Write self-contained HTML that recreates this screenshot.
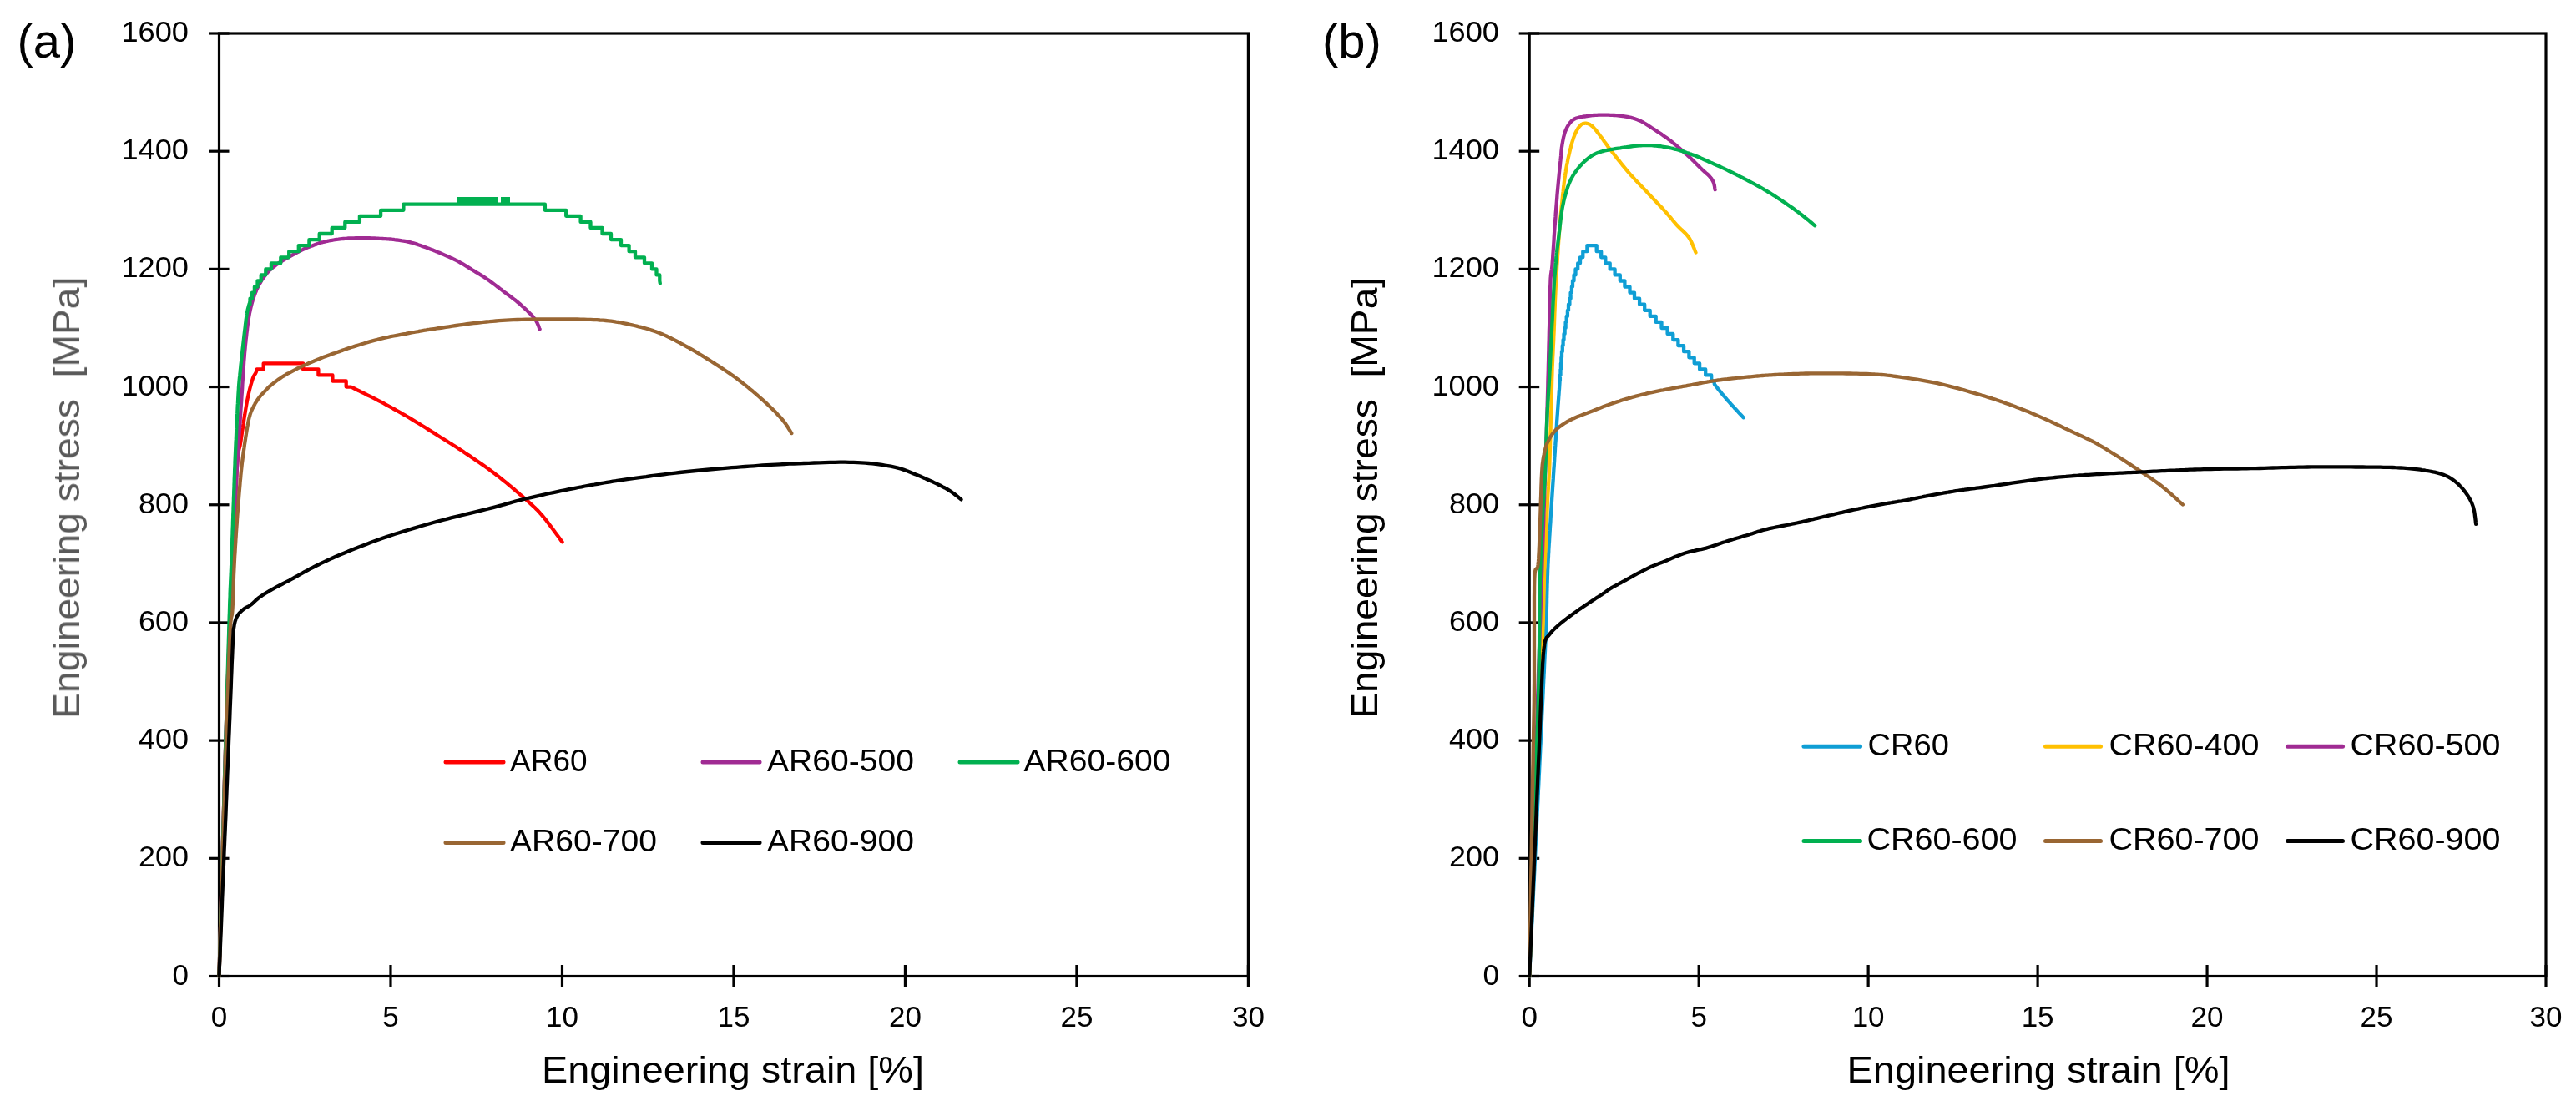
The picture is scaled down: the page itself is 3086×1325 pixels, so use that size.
<!DOCTYPE html>
<html><head><meta charset="utf-8"><style>
html,body{margin:0;padding:0;background:#fff;overflow:hidden}
svg{display:block;font-family:'Liberation Sans',sans-serif}
text{-webkit-font-smoothing:antialiased;filter:grayscale(1)}
.tx{opacity:0.999}
text{font-family:'Liberation Sans',sans-serif}
</style></head><body>
<svg width="3086" height="1325" viewBox="0 0 3086 1325">
<style>.tk{font-size:35px;fill:#000}.ti{font-size:45px}.lg{font-size:37px;fill:#000}.pl{font-size:58px;fill:#000}</style>
<rect width="3086" height="1325" fill="#fff"/>
<g class="tx">
<rect x="262.5" y="40.0" width="1232.9" height="1129.5" fill="none" stroke="#000" stroke-width="3.2"/>
<line x1="250.0" y1="1169.50" x2="274.5" y2="1169.50" stroke="#000" stroke-width="3.2"/>
<line x1="250.0" y1="1028.31" x2="274.5" y2="1028.31" stroke="#000" stroke-width="3.2"/>
<line x1="250.0" y1="887.12" x2="274.5" y2="887.12" stroke="#000" stroke-width="3.2"/>
<line x1="250.0" y1="745.94" x2="274.5" y2="745.94" stroke="#000" stroke-width="3.2"/>
<line x1="250.0" y1="604.75" x2="274.5" y2="604.75" stroke="#000" stroke-width="3.2"/>
<line x1="250.0" y1="463.56" x2="274.5" y2="463.56" stroke="#000" stroke-width="3.2"/>
<line x1="250.0" y1="322.38" x2="274.5" y2="322.38" stroke="#000" stroke-width="3.2"/>
<line x1="250.0" y1="181.19" x2="274.5" y2="181.19" stroke="#000" stroke-width="3.2"/>
<line x1="250.0" y1="40.00" x2="274.5" y2="40.00" stroke="#000" stroke-width="3.2"/>
<line x1="262.50" y1="1156.0" x2="262.50" y2="1182.0" stroke="#000" stroke-width="3.2"/>
<line x1="467.98" y1="1156.0" x2="467.98" y2="1182.0" stroke="#000" stroke-width="3.2"/>
<line x1="673.47" y1="1156.0" x2="673.47" y2="1182.0" stroke="#000" stroke-width="3.2"/>
<line x1="878.95" y1="1156.0" x2="878.95" y2="1182.0" stroke="#000" stroke-width="3.2"/>
<line x1="1084.43" y1="1156.0" x2="1084.43" y2="1182.0" stroke="#000" stroke-width="3.2"/>
<line x1="1289.92" y1="1156.0" x2="1289.92" y2="1182.0" stroke="#000" stroke-width="3.2"/>
<line x1="1495.40" y1="1156.0" x2="1495.40" y2="1182.0" stroke="#000" stroke-width="3.2"/>
<text x="226" y="1179.50" text-anchor="end" class="tk">0</text>
<text x="226" y="1038.31" text-anchor="end" class="tk" textLength="60" lengthAdjust="spacingAndGlyphs">200</text>
<text x="226" y="897.12" text-anchor="end" class="tk" textLength="60" lengthAdjust="spacingAndGlyphs">400</text>
<text x="226" y="755.94" text-anchor="end" class="tk" textLength="60" lengthAdjust="spacingAndGlyphs">600</text>
<text x="226" y="614.75" text-anchor="end" class="tk" textLength="60" lengthAdjust="spacingAndGlyphs">800</text>
<text x="226" y="473.56" text-anchor="end" class="tk" textLength="80.5" lengthAdjust="spacingAndGlyphs">1000</text>
<text x="226" y="332.38" text-anchor="end" class="tk" textLength="80.5" lengthAdjust="spacingAndGlyphs">1200</text>
<text x="226" y="191.19" text-anchor="end" class="tk" textLength="80.5" lengthAdjust="spacingAndGlyphs">1400</text>
<text x="226" y="50.00" text-anchor="end" class="tk" textLength="80.5" lengthAdjust="spacingAndGlyphs">1600</text>
<text x="262.50" y="1229.5" text-anchor="middle" class="tk">0</text>
<text x="467.98" y="1229.5" text-anchor="middle" class="tk">5</text>
<text x="673.47" y="1229.5" text-anchor="middle" class="tk">10</text>
<text x="878.95" y="1229.5" text-anchor="middle" class="tk">15</text>
<text x="1084.43" y="1229.5" text-anchor="middle" class="tk">20</text>
<text x="1289.92" y="1229.5" text-anchor="middle" class="tk">25</text>
<text x="1495.40" y="1229.5" text-anchor="middle" class="tk">30</text>
<rect x="1832.2" y="40.0" width="1217.8" height="1129.5" fill="none" stroke="#000" stroke-width="3.2"/>
<line x1="1819.7" y1="1169.50" x2="1844.2" y2="1169.50" stroke="#000" stroke-width="3.2"/>
<line x1="1819.7" y1="1028.31" x2="1844.2" y2="1028.31" stroke="#000" stroke-width="3.2"/>
<line x1="1819.7" y1="887.12" x2="1844.2" y2="887.12" stroke="#000" stroke-width="3.2"/>
<line x1="1819.7" y1="745.94" x2="1844.2" y2="745.94" stroke="#000" stroke-width="3.2"/>
<line x1="1819.7" y1="604.75" x2="1844.2" y2="604.75" stroke="#000" stroke-width="3.2"/>
<line x1="1819.7" y1="463.56" x2="1844.2" y2="463.56" stroke="#000" stroke-width="3.2"/>
<line x1="1819.7" y1="322.38" x2="1844.2" y2="322.38" stroke="#000" stroke-width="3.2"/>
<line x1="1819.7" y1="181.19" x2="1844.2" y2="181.19" stroke="#000" stroke-width="3.2"/>
<line x1="1819.7" y1="40.00" x2="1844.2" y2="40.00" stroke="#000" stroke-width="3.2"/>
<line x1="1832.20" y1="1156.0" x2="1832.20" y2="1182.0" stroke="#000" stroke-width="3.2"/>
<line x1="2035.17" y1="1156.0" x2="2035.17" y2="1182.0" stroke="#000" stroke-width="3.2"/>
<line x1="2238.13" y1="1156.0" x2="2238.13" y2="1182.0" stroke="#000" stroke-width="3.2"/>
<line x1="2441.10" y1="1156.0" x2="2441.10" y2="1182.0" stroke="#000" stroke-width="3.2"/>
<line x1="2644.07" y1="1156.0" x2="2644.07" y2="1182.0" stroke="#000" stroke-width="3.2"/>
<line x1="2847.03" y1="1156.0" x2="2847.03" y2="1182.0" stroke="#000" stroke-width="3.2"/>
<line x1="3050.00" y1="1156.0" x2="3050.00" y2="1182.0" stroke="#000" stroke-width="3.2"/>
<text x="1796" y="1179.50" text-anchor="end" class="tk">0</text>
<text x="1796" y="1038.31" text-anchor="end" class="tk" textLength="60" lengthAdjust="spacingAndGlyphs">200</text>
<text x="1796" y="897.12" text-anchor="end" class="tk" textLength="60" lengthAdjust="spacingAndGlyphs">400</text>
<text x="1796" y="755.94" text-anchor="end" class="tk" textLength="60" lengthAdjust="spacingAndGlyphs">600</text>
<text x="1796" y="614.75" text-anchor="end" class="tk" textLength="60" lengthAdjust="spacingAndGlyphs">800</text>
<text x="1796" y="473.56" text-anchor="end" class="tk" textLength="80.5" lengthAdjust="spacingAndGlyphs">1000</text>
<text x="1796" y="332.38" text-anchor="end" class="tk" textLength="80.5" lengthAdjust="spacingAndGlyphs">1200</text>
<text x="1796" y="191.19" text-anchor="end" class="tk" textLength="80.5" lengthAdjust="spacingAndGlyphs">1400</text>
<text x="1796" y="50.00" text-anchor="end" class="tk" textLength="80.5" lengthAdjust="spacingAndGlyphs">1600</text>
<text x="1832.20" y="1229.5" text-anchor="middle" class="tk">0</text>
<text x="2035.17" y="1229.5" text-anchor="middle" class="tk">5</text>
<text x="2238.13" y="1229.5" text-anchor="middle" class="tk">10</text>
<text x="2441.10" y="1229.5" text-anchor="middle" class="tk">15</text>
<text x="2644.07" y="1229.5" text-anchor="middle" class="tk">20</text>
<text x="2847.03" y="1229.5" text-anchor="middle" class="tk">25</text>
<text x="3050.00" y="1229.5" text-anchor="middle" class="tk">30</text>
<text x="20.5" y="68.7" class="pl">(a)</text>
<text x="1584" y="68.7" class="pl">(b)</text>
<text x="878" y="1296.5" text-anchor="middle" class="ti" fill="#000" textLength="458" lengthAdjust="spacingAndGlyphs">Engineering strain [%]</text>
<text x="2442" y="1296.5" text-anchor="middle" class="ti" fill="#000" textLength="459" lengthAdjust="spacingAndGlyphs">Engineering strain [%]</text>
<text transform="translate(95,596.3) rotate(-90)" text-anchor="middle" class="ti" fill="#595959" textLength="529" lengthAdjust="spacingAndGlyphs">Engineering stress&#160; [MPa]</text>
<text transform="translate(1650,596.3) rotate(-90)" text-anchor="middle" class="ti" fill="#000" textLength="529" lengthAdjust="spacingAndGlyphs">Engineering stress&#160; [MPa]</text>
<line x1="534" y1="913" x2="603" y2="913" stroke="#FF0000" stroke-width="5" stroke-linecap="round"/>
<text x="611" y="923.5" class="lg">AR60</text>
<line x1="842" y1="913" x2="910" y2="913" stroke="#A02B93" stroke-width="5" stroke-linecap="round"/>
<text x="919" y="923.5" class="lg" textLength="176" lengthAdjust="spacingAndGlyphs">AR60-500</text>
<line x1="1150" y1="913" x2="1219" y2="913" stroke="#00B050" stroke-width="5" stroke-linecap="round"/>
<text x="1226.5" y="923.5" class="lg" textLength="176" lengthAdjust="spacingAndGlyphs">AR60-600</text>
<line x1="534" y1="1009.5" x2="603" y2="1009.5" stroke="#996633" stroke-width="5" stroke-linecap="round"/>
<text x="611" y="1020.0" class="lg" textLength="176" lengthAdjust="spacingAndGlyphs">AR60-700</text>
<line x1="842" y1="1009.5" x2="910" y2="1009.5" stroke="#000000" stroke-width="5" stroke-linecap="round"/>
<text x="919" y="1020.0" class="lg" textLength="176" lengthAdjust="spacingAndGlyphs">AR60-900</text>
<line x1="2161" y1="894.3" x2="2228.5" y2="894.3" stroke="#0F9ED5" stroke-width="5" stroke-linecap="round"/>
<text x="2237.5" y="904.8" class="lg" textLength="97.5" lengthAdjust="spacingAndGlyphs">CR60</text>
<line x1="2450.5" y1="894.3" x2="2516.5" y2="894.3" stroke="#FFC000" stroke-width="5" stroke-linecap="round"/>
<text x="2526.5" y="904.8" class="lg" textLength="180" lengthAdjust="spacingAndGlyphs">CR60-400</text>
<line x1="2740.5" y1="894.3" x2="2806.5" y2="894.3" stroke="#A02B93" stroke-width="5" stroke-linecap="round"/>
<text x="2815.5" y="904.8" class="lg" textLength="180" lengthAdjust="spacingAndGlyphs">CR60-500</text>
<line x1="2161" y1="1007.6" x2="2228.5" y2="1007.6" stroke="#00B050" stroke-width="5" stroke-linecap="round"/>
<text x="2236.5" y="1018.1" class="lg" textLength="180" lengthAdjust="spacingAndGlyphs">CR60-600</text>
<line x1="2450.5" y1="1007.6" x2="2516.5" y2="1007.6" stroke="#996633" stroke-width="5" stroke-linecap="round"/>
<text x="2526.5" y="1018.1" class="lg" textLength="180" lengthAdjust="spacingAndGlyphs">CR60-700</text>
<line x1="2740.5" y1="1007.6" x2="2806.5" y2="1007.6" stroke="#000000" stroke-width="5" stroke-linecap="round"/>
<text x="2815.5" y="1018.1" class="lg" textLength="180" lengthAdjust="spacingAndGlyphs">CR60-900</text>
<path d="M262.5,1169.5 L262.9,1156.1 L263.3,1138.7 L263.9,1118.0 L264.5,1094.8 L265.2,1069.8 L265.9,1043.5 L266.7,1016.8 L267.4,990.2 L268.1,964.6 L268.8,940.5 L269.4,918.8 L270.0,900.0 L270.5,883.6 L271.0,868.5 L271.4,854.5 L271.9,841.5 L272.3,829.4 L272.7,818.2 L273.1,807.5 L273.5,797.4 L273.9,787.7 L274.3,778.4 L274.6,769.2 L275.0,760.0 L275.4,751.4 L275.7,743.7 L276.0,736.7 L276.4,730.4 L276.7,724.4 L277.0,718.8 L277.3,713.1 L277.6,707.4 L278.0,701.4 L278.3,695.0 L278.6,687.9 L279.0,680.0 L279.4,671.1 L279.8,661.3 L280.2,650.7 L280.6,639.6 L281.0,628.3 L281.4,616.9 L281.9,605.6 L282.3,594.8 L282.7,584.6 L283.1,575.2 L283.5,567.0 L283.9,560.0 L284.3,554.4 L284.7,549.8 L285.0,546.2 L285.4,543.4 L285.7,541.1 L286.1,539.4 L286.4,538.0 L286.8,536.7 L287.1,535.5 L287.5,534.1 L287.8,532.4 L288.2,530.2 L288.6,527.7 L288.9,525.2 L289.3,522.7 L289.7,520.2 L290.0,517.7 L290.4,515.2 L290.8,512.8 L291.1,510.4 L291.5,508.0 L291.8,505.7 L292.2,503.5 L292.5,501.3 L292.8,499.2 L293.2,497.2 L293.5,495.2 L293.8,493.3 L294.1,491.5 L294.4,489.6 L294.7,487.9 L295.0,486.1 L295.3,484.4 L295.6,482.8 L295.9,481.2 L296.2,479.6 L296.5,478.1 L296.8,476.6 L297.1,475.1 L297.4,473.7 L297.7,472.3 L298.0,471.0 L298.3,469.7 L298.6,468.5 L298.9,467.2 L299.2,466.0 L299.5,464.9 L299.8,463.7 L300.1,462.6 L300.4,461.4 L300.7,460.4 L301.0,459.3 L301.3,458.3 L301.6,457.3 L301.9,456.3 L302.2,455.4 L302.5,454.5 L302.8,453.6 L303.1,452.8 L303.4,452.1 L303.7,451.4 L304.0,450.8 L304.3,450.2 L304.5,449.7 L304.8,449.3 L305.1,448.8 L305.4,448.4 L305.6,448.0 L305.9,447.7 L306.1,447.3 L306.3,446.9 L306.5,446.5 L306.7,446.1 L306.8,445.7 L307.0,445.3 L307.1,444.9 L307.2,444.5 L307.3,444.1 L307.4,443.7 L307.5,443.4 L307.5,443.1 L307.6,442.8 L307.6,442.6 L307.7,442.4 L315.7,442.4 L315.7,435.3 L363.1,435.3 L363.1,442.4 L381.4,442.4 L381.4,449.4 L398.4,449.4 L398.4,456.5 L414.7,456.5 L414.7,463.6 L420.5,463.6 L422.3,464.4 L424.5,465.5 L427.1,466.8 L430.0,468.2 L433.1,469.8 L436.5,471.4 L439.9,473.2 L443.5,474.9 L447.0,476.7 L450.4,478.4 L453.6,480.1 L456.7,481.7 L459.6,483.2 L462.5,484.8 L465.3,486.3 L468.2,487.9 L471.0,489.5 L473.8,491.0 L476.6,492.6 L479.4,494.2 L482.2,495.8 L485.0,497.4 L487.8,499.0 L490.6,500.7 L493.4,502.4 L496.2,504.1 L499.1,505.8 L501.9,507.5 L504.7,509.3 L507.6,511.0 L510.4,512.8 L513.2,514.6 L516.0,516.4 L518.9,518.1 L521.7,519.9 L524.5,521.7 L527.3,523.5 L530.1,525.2 L532.9,527.0 L535.7,528.7 L538.5,530.5 L541.3,532.2 L544.1,534.0 L546.9,535.8 L549.7,537.7 L552.6,539.5 L555.5,541.4 L558.4,543.4 L561.4,545.4 L564.4,547.4 L567.4,549.5 L570.5,551.6 L573.7,553.8 L576.8,555.9 L579.9,558.1 L583.0,560.3 L586.1,562.5 L589.1,564.8 L592.1,567.0 L595.0,569.2 L597.9,571.4 L600.8,573.7 L603.7,576.1 L606.6,578.4 L609.5,580.8 L612.3,583.2 L615.1,585.5 L617.8,587.8 L620.5,590.1 L623.0,592.3 L625.5,594.4 L627.8,596.5 L630.0,598.4 L632.0,600.2 L633.9,601.9 L635.8,603.6 L637.5,605.1 L639.2,606.7 L640.9,608.3 L642.5,609.9 L644.2,611.6 L645.9,613.4 L647.6,615.4 L649.5,617.5 L651.5,619.9 L653.7,622.5 L655.9,625.4 L658.2,628.5 L660.6,631.6 L662.9,634.7 L665.1,637.8 L667.3,640.7 L669.2,643.3 L671.0,645.7 L672.4,647.7 L673.6,649.3" fill="none" stroke="#FF0000" stroke-width="4.3" stroke-linejoin="round" stroke-linecap="round"/>
<path d="M262.5,1169.5 L262.9,1156.1 L263.3,1138.9 L263.9,1118.5 L264.5,1095.6 L265.2,1070.8 L265.9,1044.8 L266.6,1018.2 L267.4,991.7 L268.1,966.0 L268.8,941.7 L269.4,919.5 L270.0,900.0 L270.5,882.6 L271.0,866.3 L271.5,850.9 L272.0,836.3 L272.5,822.5 L272.9,809.4 L273.4,796.9 L273.8,784.8 L274.2,773.2 L274.7,761.9 L275.1,750.9 L275.5,740.0 L275.9,729.5 L276.3,719.6 L276.7,710.3 L277.1,701.5 L277.5,693.1 L277.8,685.0 L278.2,677.2 L278.6,669.6 L278.9,662.2 L279.3,654.8 L279.6,647.4 L280.0,640.0 L280.3,632.6 L280.7,625.5 L281.0,618.6 L281.3,611.9 L281.6,605.2 L282.0,598.8 L282.3,592.3 L282.6,585.9 L282.9,579.5 L283.3,573.1 L283.6,566.6 L284.0,560.0 L284.4,553.2 L284.8,546.3 L285.3,539.3 L285.7,532.2 L286.2,525.1 L286.6,518.1 L287.1,511.2 L287.6,504.4 L288.0,497.9 L288.4,491.6 L288.8,485.6 L289.2,480.0 L289.5,474.7 L289.9,469.7 L290.2,465.0 L290.4,460.5 L290.7,456.1 L291.0,452.0 L291.2,448.1 L291.5,444.2 L291.7,440.6 L292.0,437.0 L292.2,433.5 L292.5,430.0 L292.8,426.7 L293.0,423.5 L293.3,420.5 L293.6,417.6 L293.8,414.8 L294.1,412.1 L294.4,409.6 L294.6,407.1 L294.9,404.7 L295.2,402.3 L295.4,400.0 L295.7,397.7 L296.0,395.5 L296.2,393.3 L296.5,391.3 L296.7,389.3 L297.0,387.4 L297.2,385.5 L297.5,383.7 L297.8,381.9 L298.1,380.2 L298.4,378.5 L298.7,376.7 L299.0,375.0 L299.4,373.3 L299.7,371.6 L300.1,369.9 L300.5,368.3 L300.9,366.7 L301.3,365.1 L301.7,363.5 L302.1,362.0 L302.6,360.5 L303.0,359.0 L303.5,357.5 L304.0,356.0 L304.5,354.6 L305.0,353.1 L305.6,351.7 L306.1,350.3 L306.7,349.0 L307.2,347.6 L307.8,346.3 L308.4,345.0 L309.1,343.7 L309.7,342.5 L310.3,341.2 L311.0,340.0 L311.7,338.8 L312.4,337.6 L313.1,336.4 L313.8,335.3 L314.6,334.2 L315.3,333.1 L316.1,332.0 L316.9,330.9 L317.6,329.9 L318.4,328.9 L319.2,327.9 L320.0,327.0 L320.8,326.1 L321.6,325.2 L322.4,324.4 L323.2,323.6 L324.1,322.9 L324.9,322.1 L325.7,321.4 L326.6,320.7 L327.4,320.0 L328.3,319.3 L329.1,318.7 L330.0,318.0 L330.8,317.4 L331.6,316.8 L332.4,316.2 L333.2,315.6 L334.0,315.1 L334.8,314.6 L335.6,314.0 L336.5,313.5 L337.4,312.9 L338.5,312.3 L339.6,311.6 L340.8,310.9 L342.2,310.1 L343.7,309.2 L345.3,308.3 L347.0,307.3 L348.8,306.3 L350.6,305.3 L352.5,304.3 L354.3,303.4 L356.0,302.4 L357.7,301.5 L359.3,300.7 L360.7,300.0 L362.0,299.4 L363.2,298.8 L364.3,298.3 L365.4,297.8 L366.4,297.3 L367.3,296.9 L368.3,296.5 L369.2,296.2 L370.2,295.8 L371.2,295.4 L372.3,295.0 L373.4,294.6 L374.6,294.2 L375.7,293.7 L376.9,293.3 L378.1,292.9 L379.3,292.4 L380.5,292.0 L381.7,291.6 L383.0,291.1 L384.4,290.7 L385.8,290.3 L387.3,290.0 L388.8,289.6 L390.4,289.2 L392.1,288.9 L393.9,288.5 L395.7,288.2 L397.6,287.9 L399.5,287.5 L401.4,287.2 L403.4,286.9 L405.4,286.7 L407.4,286.4 L409.4,286.2 L411.4,286.0 L413.4,285.8 L415.5,285.7 L417.6,285.5 L419.7,285.4 L421.9,285.3 L424.0,285.3 L426.2,285.2 L428.3,285.2 L430.5,285.1 L432.6,285.1 L434.7,285.1 L436.7,285.1 L438.7,285.1 L440.8,285.2 L442.9,285.2 L445.0,285.3 L447.1,285.4 L449.1,285.5 L451.1,285.6 L453.1,285.7 L455.0,285.8 L456.8,285.9 L458.4,286.0 L460.0,286.1 L461.4,286.2 L462.7,286.2 L463.8,286.3 L464.8,286.4 L465.7,286.4 L466.6,286.5 L467.5,286.5 L468.4,286.6 L469.3,286.7 L470.3,286.8 L471.5,286.9 L472.7,287.1 L474.1,287.3 L475.5,287.5 L477.0,287.7 L478.5,287.9 L480.1,288.1 L481.8,288.4 L483.4,288.6 L485.1,288.9 L486.7,289.2 L488.4,289.6 L490.0,289.9 L491.6,290.3 L493.2,290.7 L494.8,291.2 L496.3,291.6 L497.9,292.1 L499.5,292.6 L501.1,293.2 L502.7,293.7 L504.3,294.3 L505.8,294.9 L507.4,295.4 L509.0,296.0 L510.6,296.6 L512.2,297.2 L513.8,297.8 L515.4,298.4 L516.9,299.0 L518.5,299.6 L520.1,300.2 L521.7,300.9 L523.3,301.5 L524.9,302.2 L526.4,302.8 L528.0,303.5 L529.6,304.2 L531.2,304.9 L532.8,305.6 L534.4,306.3 L535.9,306.9 L537.5,307.6 L539.1,308.4 L540.7,309.1 L542.3,309.8 L543.9,310.6 L545.4,311.4 L547.0,312.2 L548.6,313.0 L550.2,313.9 L551.8,314.8 L553.4,315.7 L555.1,316.7 L556.7,317.6 L558.3,318.6 L559.9,319.6 L561.5,320.6 L563.1,321.6 L564.6,322.6 L566.1,323.5 L567.6,324.4 L569.0,325.3 L570.4,326.1 L571.7,326.9 L573.0,327.6 L574.2,328.4 L575.4,329.1 L576.7,329.9 L577.9,330.7 L579.2,331.5 L580.5,332.3 L581.9,333.2 L583.3,334.2 L584.8,335.2 L586.3,336.3 L587.8,337.4 L589.3,338.5 L590.9,339.7 L592.5,340.9 L594.1,342.1 L595.7,343.4 L597.4,344.6 L599.0,345.9 L600.7,347.1 L602.3,348.4 L604.0,349.7 L605.7,350.9 L607.4,352.2 L609.1,353.5 L610.9,354.8 L612.6,356.1 L614.4,357.4 L616.1,358.8 L617.9,360.1 L619.5,361.5 L621.2,362.8 L622.8,364.2 L624.4,365.6 L626.0,367.1 L627.6,368.5 L629.3,370.1 L630.9,371.6 L632.4,373.1 L634.0,374.6 L635.4,376.1 L636.8,377.5 L638.1,379.0 L639.2,380.3 L640.3,381.6 L641.2,382.9 L642.1,384.1 L642.8,385.4 L643.5,386.7 L644.0,387.9 L644.5,389.0 L645.0,390.1 L645.4,391.2 L645.7,392.1 L646.0,393.0 L646.3,393.7 L646.6,394.3" fill="none" stroke="#A02B93" stroke-width="4.3" stroke-linejoin="round" stroke-linecap="round"/>
<path d="M262.5,1169.5 L262.6,1164.7 L262.8,1159.2 L263.0,1153.0 L263.1,1146.3 L263.3,1139.0 L263.6,1131.3 L263.8,1123.0 L264.0,1114.4 L264.3,1105.3 L264.5,1095.9 L264.8,1086.3 L265.1,1076.3 L265.4,1066.2 L265.6,1055.8 L265.9,1045.4 L266.2,1034.8 L266.5,1024.2 L266.8,1013.6 L267.1,1003.0 L267.4,992.4 L267.7,982.0 L268.0,971.7 L268.3,961.7 L268.5,951.8 L268.8,942.3 L269.1,933.0 L269.3,924.1 L269.6,915.6 L269.8,907.6 L270.0,900.0 L270.2,892.7 L270.4,885.6 L270.6,878.5 L270.8,871.5 L271.0,864.7 L271.2,857.9 L271.4,851.3 L271.6,844.7 L271.8,838.3 L271.9,832.0 L272.1,825.7 L272.3,819.6 L272.5,813.7 L272.7,807.8 L272.8,802.0 L273.0,796.4 L273.1,790.9 L273.3,785.4 L273.5,780.2 L273.6,775.0 L273.8,769.9 L273.9,765.0 L274.1,760.2 L274.2,755.6 L274.3,751.0 L274.5,746.6 L274.6,742.3 L274.7,738.1 L274.9,734.1 L275.0,730.2 L275.1,726.5 L275.2,723.0 L275.3,719.8 L275.5,716.7 L275.6,713.9 L275.6,711.2 L275.7,708.8 L275.8,706.4 L275.9,704.3 L276.0,702.2 L276.1,700.3 L276.2,698.5 L276.2,696.8 L276.3,695.2 L276.4,693.6 L276.4,692.1 L276.5,690.7 L276.6,689.2 L276.6,687.8 L276.7,686.4 L276.8,685.0 L276.8,683.6 L276.9,682.2 L277.0,680.7 L277.0,679.1 L277.1,677.5 L277.2,675.8 L277.2,674.0 L277.3,672.0 L277.4,670.0 L277.5,667.9 L277.6,665.8 L277.6,663.6 L277.7,661.5 L277.8,659.3 L277.9,657.1 L277.9,655.0 L278.0,652.8 L278.1,650.6 L278.2,648.4 L278.2,646.2 L278.3,643.9 L278.4,641.7 L278.5,639.5 L278.5,637.3 L278.6,635.0 L278.7,632.8 L278.8,630.6 L278.9,628.3 L278.9,626.1 L279.0,623.9 L279.1,621.6 L279.2,619.4 L279.2,617.2 L279.3,615.0 L279.4,612.8 L279.5,610.6 L279.5,608.4 L279.6,606.3 L279.7,604.1 L279.8,601.9 L279.9,599.8 L279.9,597.7 L280.0,595.6 L280.1,593.5 L280.2,591.4 L280.2,589.3 L280.3,587.2 L280.4,585.1 L280.5,583.0 L280.5,580.9 L280.6,578.9 L280.7,576.8 L280.7,574.7 L280.8,572.6 L280.9,570.6 L281.0,568.5 L281.1,566.4 L281.1,564.3 L281.2,562.2 L281.3,560.1 L281.4,558.0 L281.5,555.9 L281.5,553.7 L281.6,551.6 L281.7,549.4 L281.8,547.2 L281.9,545.0 L282.0,542.8 L282.1,540.6 L282.2,538.3 L282.3,536.0 L282.4,533.6 L282.5,531.2 L282.6,528.7 L282.8,526.2 L282.9,523.6 L283.0,521.1 L283.1,518.5 L283.2,515.8 L283.4,513.2 L283.5,510.6 L283.6,508.0 L283.7,505.4 L283.9,502.8 L284.0,500.2 L284.1,497.7 L284.3,495.2 L284.4,492.7 L284.5,490.3 L284.6,487.9 L284.7,485.6 L284.9,483.4 L285.0,481.2 L285.1,479.1 L285.2,477.1 L285.3,475.2 L285.4,473.4 L285.5,471.6 L285.6,470.0 L285.7,468.5 L285.8,467.1 L285.9,465.8 L285.9,464.5 L286.0,463.4 L286.1,462.3 L286.2,461.3 L286.2,460.4 L286.3,459.6 L286.4,458.8 L286.4,458.0 L286.5,457.3 L286.5,456.6 L286.6,456.0 L286.7,455.4 L286.7,454.9 L286.8,454.3 L286.8,453.8 L286.9,453.3 L286.9,452.7 L287.0,452.2 L287.1,451.7 L287.1,451.1 L287.2,450.6 L287.2,450.0 L287.3,449.4 L287.4,448.7 L287.4,448.0 L287.5,447.3 L287.6,446.5 L287.7,445.7 L287.8,444.9 L287.8,444.0 L287.9,443.2 L288.0,442.4 L288.1,441.5 L288.2,440.7 L288.3,439.9 L288.3,439.0 L288.4,438.2 L288.5,437.3 L288.6,436.5 L288.7,435.6 L288.8,434.8 L288.9,433.9 L289.0,433.0 L289.1,432.2 L289.2,431.3 L289.3,430.5 L289.4,429.6 L289.4,428.7 L289.5,427.9 L289.6,427.0 L289.7,426.2 L289.8,425.3 L289.9,424.4 L290.0,423.6 L290.1,422.7 L290.2,421.9 L290.3,421.0 L290.4,420.1 L290.5,419.3 L290.6,418.4 L290.7,417.5 L290.8,416.6 L290.9,415.8 L291.0,414.9 L291.1,414.0 L291.2,413.1 L291.3,412.2 L291.4,411.3 L291.5,410.4 L291.6,409.5 L291.7,408.6 L291.8,407.8 L291.9,406.9 L292.0,406.0 L292.1,405.1 L292.2,404.2 L292.3,403.4 L292.4,402.5 L292.5,401.6 L292.6,400.8 L292.7,399.9 L292.8,399.1 L292.9,398.2 L293.0,397.4 L293.1,396.6 L293.2,395.8 L293.3,395.0 L293.4,394.2 L293.5,393.4 L293.6,392.6 L293.7,391.9 L293.8,391.1 L293.9,390.3 L293.9,389.6 L294.0,388.8 L294.1,388.1 L294.2,387.3 L294.3,386.6 L294.4,385.8 L294.5,385.1 L294.6,384.4 L294.6,383.6 L294.7,382.9 L294.8,382.2 L294.9,381.5 L295.0,380.8 L295.1,380.1 L295.2,379.4 L295.3,378.7 L295.4,378.1 L295.5,377.4 L295.6,376.7 L295.7,376.1 L295.8,375.4 L296.0,374.8 L296.1,374.1 L296.2,373.5 L296.3,372.9 L296.5,372.3 L296.6,371.6 L296.7,371.0 L296.9,370.4 L297.0,369.8 L297.2,369.3 L297.3,368.7 L297.5,368.1 L297.6,367.5 L297.8,367.0 L297.9,366.4 L298.1,365.8 L298.3,365.3 L298.4,364.8 L298.6,364.2 L298.7,363.7 L298.9,363.2 L299.1,362.6 L299.2,362.1 L299.4,361.6 L299.5,364.7 L299.5,357.7 L302.0,357.7 L302.0,350.6 L304.9,350.6 L304.9,343.6 L308.5,343.6 L308.5,336.5 L312.7,336.5 L312.7,329.4 L318.3,329.4 L318.3,322.4 L324.9,322.4 L324.9,315.3 L336.3,315.3 L336.3,308.3 L346.2,308.3 L346.2,301.2 L357.8,301.2 L357.8,294.1 L370.4,294.1 L370.4,287.1 L382.7,287.1 L382.7,280.0 L397.7,280.0 L397.7,273.0 L413.3,273.0 L413.3,265.9 L430.9,265.9 L430.9,258.8 L456.1,258.8 L456.1,251.8 L483.4,251.8 L483.4,244.7 L499.5,244.7 L499.5,244.7 L652.9,244.7 L652.9,251.8 L678.2,251.8 L678.2,258.8 L695.6,258.8 L695.6,265.9 L707.5,265.9 L707.5,273.0 L721.5,273.0 L721.5,280.0 L732.0,280.0 L732.0,287.1 L744.0,287.1 L744.0,294.1 L753.6,294.1 L753.6,301.2 L761.0,301.2 L761.0,308.3 L772.0,308.3 L772.0,315.3 L781.0,315.3 L781.0,322.4 L786.5,322.4 L786.5,329.4 L790.3,329.4 L790.3,336.5 L790.8,339.5" fill="none" stroke="#00B050" stroke-width="4.3" stroke-linejoin="round" stroke-linecap="round"/>
<rect x="547" y="236" width="49" height="9" fill="#00B050"/>
<rect x="600" y="236" width="11" height="9" fill="#00B050"/>
<path d="M262.5,1169.5 L262.9,1156.1 L263.4,1138.7 L264.0,1118.0 L264.7,1094.8 L265.4,1069.8 L266.2,1043.5 L267.0,1016.8 L267.8,990.2 L268.5,964.6 L269.2,940.5 L269.9,918.8 L270.5,900.0 L271.0,883.4 L271.5,867.9 L272.0,853.3 L272.5,839.7 L272.9,826.9 L273.3,815.0 L273.7,804.0 L274.1,793.7 L274.5,784.2 L274.8,775.5 L275.2,767.4 L275.5,760.0 L275.8,753.7 L276.1,748.9 L276.4,745.2 L276.7,742.6 L276.9,740.7 L277.2,739.4 L277.4,738.4 L277.7,737.4 L277.9,736.4 L278.1,735.0 L278.3,733.0 L278.5,730.2 L278.7,726.8 L278.9,723.2 L279.0,719.4 L279.2,715.4 L279.3,711.3 L279.5,707.1 L279.6,702.8 L279.7,698.5 L279.9,694.2 L280.0,690.0 L280.2,685.8 L280.4,681.8 L280.6,677.8 L280.8,673.9 L281.0,669.9 L281.2,666.0 L281.5,662.1 L281.7,658.2 L281.9,654.3 L282.2,650.4 L282.4,646.4 L282.7,642.5 L282.9,638.6 L283.2,634.7 L283.5,630.7 L283.8,626.7 L284.0,622.6 L284.3,618.6 L284.6,614.5 L285.0,610.4 L285.3,606.4 L285.6,602.4 L285.9,598.5 L286.2,594.8 L286.5,591.1 L286.8,587.6 L287.1,584.3 L287.4,581.1 L287.6,578.0 L287.9,575.0 L288.2,572.2 L288.4,569.4 L288.7,566.6 L289.0,563.8 L289.3,561.0 L289.6,558.2 L289.9,555.3 L290.3,552.4 L290.7,549.3 L291.1,546.2 L291.5,542.9 L292.0,539.6 L292.5,536.3 L292.9,533.0 L293.4,529.8 L293.9,526.7 L294.3,523.6 L294.8,520.8 L295.2,518.1 L295.6,515.7 L296.0,513.5 L296.3,511.4 L296.7,509.6 L297.0,507.8 L297.3,506.2 L297.6,504.7 L297.9,503.3 L298.2,501.9 L298.5,500.6 L298.8,499.4 L299.2,498.2 L299.5,497.0 L299.8,495.9 L300.2,494.8 L300.5,493.9 L300.9,493.0 L301.2,492.2 L301.5,491.4 L301.9,490.7 L302.2,490.0 L302.6,489.3 L303.0,488.5 L303.4,487.8 L303.8,487.0 L304.2,486.2 L304.7,485.4 L305.1,484.6 L305.5,483.7 L306.0,482.9 L306.5,482.1 L307.0,481.3 L307.5,480.5 L308.0,479.8 L308.5,479.0 L309.0,478.2 L309.5,477.5 L310.0,476.8 L310.6,476.1 L311.1,475.4 L311.7,474.7 L312.2,474.1 L312.8,473.4 L313.4,472.8 L314.0,472.1 L314.6,471.5 L315.2,470.8 L315.9,470.2 L316.5,469.5 L317.1,468.8 L317.8,468.2 L318.4,467.5 L319.0,466.8 L319.6,466.2 L320.3,465.5 L320.9,464.8 L321.7,464.1 L322.4,463.4 L323.2,462.7 L324.1,462.0 L325.0,461.2 L326.0,460.4 L327.0,459.6 L328.1,458.7 L329.2,457.9 L330.3,457.0 L331.5,456.1 L332.7,455.2 L334.0,454.3 L335.3,453.4 L336.7,452.4 L338.1,451.5 L339.6,450.6 L341.2,449.7 L342.8,448.7 L344.5,447.7 L346.3,446.8 L348.1,445.8 L350.0,444.8 L351.9,443.8 L353.8,442.8 L355.7,441.8 L357.6,440.9 L359.5,440.0 L361.3,439.1 L363.1,438.2 L364.9,437.4 L366.7,436.6 L368.5,435.8 L370.3,435.0 L372.1,434.2 L374.0,433.4 L375.8,432.7 L377.6,431.9 L379.4,431.2 L381.2,430.4 L383.0,429.7 L384.8,429.0 L386.6,428.3 L388.4,427.6 L390.2,426.9 L392.0,426.2 L393.9,425.6 L395.7,424.9 L397.5,424.3 L399.3,423.6 L401.1,423.0 L402.9,422.3 L404.7,421.7 L406.5,421.1 L408.2,420.5 L409.9,419.9 L411.5,419.3 L413.2,418.7 L414.9,418.1 L416.6,417.5 L418.4,416.9 L420.2,416.3 L422.1,415.7 L424.1,415.1 L426.3,414.4 L428.6,413.7 L430.9,413.0 L433.3,412.2 L435.8,411.5 L438.3,410.7 L441.0,409.9 L443.6,409.2 L446.4,408.4 L449.2,407.6 L452.1,406.9 L455.0,406.1 L458.0,405.4 L461.1,404.7 L464.5,404.0 L468.0,403.2 L471.6,402.5 L475.3,401.8 L479.0,401.1 L482.7,400.4 L486.2,399.8 L489.7,399.1 L492.9,398.5 L496.0,398.0 L498.7,397.5 L501.1,397.1 L503.1,396.7 L504.8,396.4 L506.3,396.1 L507.6,395.9 L508.9,395.7 L510.2,395.5 L511.7,395.2 L513.3,395.0 L515.2,394.7 L517.4,394.4 L520.0,394.0 L523.0,393.5 L526.4,393.0 L530.0,392.5 L533.9,391.9 L537.9,391.3 L542.1,390.6 L546.4,390.0 L550.7,389.4 L555.0,388.8 L559.3,388.2 L563.5,387.7 L567.5,387.2 L571.4,386.8 L575.2,386.3 L579.0,385.9 L582.7,385.5 L586.5,385.2 L590.2,384.8 L594.0,384.5 L597.9,384.2 L601.9,383.9 L606.1,383.6 L610.4,383.4 L614.9,383.2 L619.7,383.0 L624.7,382.9 L630.0,382.7 L635.4,382.6 L640.9,382.5 L646.5,382.4 L652.1,382.4 L657.7,382.4 L663.1,382.4 L668.4,382.4 L673.4,382.4 L678.2,382.4 L682.8,382.4 L687.2,382.5 L691.5,382.5 L695.7,382.6 L699.8,382.7 L703.8,382.8 L707.6,382.9 L711.4,383.1 L715.1,383.2 L718.7,383.5 L722.3,383.7 L725.7,384.0 L729.0,384.3 L732.2,384.7 L735.3,385.1 L738.2,385.6 L741.1,386.0 L743.9,386.5 L746.6,387.1 L749.3,387.6 L752.0,388.2 L754.6,388.8 L757.3,389.4 L760.0,390.0 L762.7,390.6 L765.3,391.3 L767.9,391.9 L770.5,392.6 L773.0,393.3 L775.6,394.0 L778.1,394.8 L780.6,395.6 L783.1,396.4 L785.6,397.3 L788.1,398.2 L790.7,399.2 L793.3,400.3 L795.8,401.4 L798.4,402.5 L801.0,403.8 L803.5,405.0 L806.1,406.3 L808.7,407.7 L811.2,409.0 L813.8,410.4 L816.4,411.8 L818.9,413.2 L821.5,414.6 L824.1,416.0 L826.6,417.5 L829.2,418.9 L831.7,420.4 L834.3,421.9 L836.9,423.5 L839.4,425.0 L842.0,426.6 L844.5,428.2 L847.1,429.8 L849.6,431.4 L852.2,433.0 L854.8,434.6 L857.3,436.3 L859.9,437.9 L862.5,439.6 L865.0,441.3 L867.6,443.0 L870.2,444.7 L872.7,446.4 L875.3,448.2 L877.9,450.0 L880.4,451.9 L883.0,453.8 L885.6,455.8 L888.2,457.8 L890.9,459.9 L893.5,462.0 L896.2,464.1 L898.8,466.3 L901.5,468.5 L904.0,470.7 L906.6,472.8 L909.0,475.0 L911.4,477.1 L913.7,479.1 L915.9,481.1 L918.1,483.1 L920.3,485.2 L922.4,487.2 L924.5,489.2 L926.5,491.2 L928.4,493.1 L930.2,495.0 L932.0,496.9 L933.7,498.7 L935.3,500.5 L936.8,502.2 L938.2,503.9 L939.5,505.6 L940.8,507.3 L941.9,508.9 L943.0,510.5 L944.0,512.1 L944.9,513.6 L945.7,514.9 L946.5,516.2 L947.2,517.3 L947.8,518.3 L948.3,519.1" fill="none" stroke="#996633" stroke-width="4.3" stroke-linejoin="round" stroke-linecap="round"/>
<path d="M262.5,1169.5 L262.7,1164.6 L262.9,1158.4 L263.2,1151.2 L263.6,1143.1 L263.9,1134.2 L264.3,1124.9 L264.7,1115.2 L265.1,1105.3 L265.5,1095.5 L265.9,1085.9 L266.2,1076.7 L266.6,1068.0 L266.9,1059.7 L267.3,1051.5 L267.6,1043.3 L268.0,1035.2 L268.3,1027.1 L268.6,1019.0 L269.0,1010.9 L269.3,1002.8 L269.7,994.7 L270.0,986.5 L270.4,978.3 L270.7,970.0 L271.0,961.6 L271.4,953.2 L271.7,944.7 L272.1,936.2 L272.4,927.7 L272.8,919.1 L273.2,910.6 L273.5,902.0 L273.9,893.5 L274.2,885.0 L274.6,876.5 L274.9,868.0 L275.3,859.3 L275.6,850.2 L276.0,840.8 L276.4,831.3 L276.8,821.8 L277.1,812.5 L277.5,803.4 L277.8,794.8 L278.2,786.8 L278.5,779.5 L278.8,773.0 L279.0,767.6 L279.2,763.3 L279.4,759.9 L279.5,757.4 L279.6,755.6 L279.7,754.5 L279.8,753.7 L279.8,753.3 L279.9,753.0 L280.0,752.8 L280.0,752.5 L280.2,752.0 L280.3,751.1 L280.5,750.0 L280.6,749.0 L280.8,748.0 L281.0,747.1 L281.2,746.2 L281.4,745.4 L281.6,744.6 L281.8,743.8 L282.1,743.1 L282.3,742.4 L282.5,741.7 L282.8,741.0 L283.1,740.3 L283.3,739.7 L283.6,739.1 L283.9,738.6 L284.2,738.1 L284.5,737.6 L284.8,737.1 L285.1,736.6 L285.4,736.1 L285.8,735.7 L286.2,735.2 L286.6,734.7 L287.0,734.2 L287.5,733.7 L288.0,733.2 L288.5,732.7 L289.0,732.2 L289.5,731.7 L290.1,731.3 L290.6,730.8 L291.2,730.3 L291.7,729.9 L292.3,729.4 L292.9,729.0 L293.5,728.6 L294.1,728.2 L294.6,727.9 L295.2,727.6 L295.8,727.3 L296.5,727.0 L297.1,726.7 L297.7,726.4 L298.4,726.0 L299.1,725.6 L299.8,725.1 L300.5,724.6 L301.2,724.0 L302.0,723.4 L302.7,722.7 L303.5,722.0 L304.3,721.2 L305.1,720.5 L305.9,719.7 L306.8,718.9 L307.7,718.1 L308.6,717.3 L309.6,716.5 L310.6,715.7 L311.7,714.9 L312.8,714.2 L313.9,713.4 L315.0,712.7 L316.2,711.9 L317.4,711.1 L318.7,710.4 L320.0,709.6 L321.3,708.8 L322.8,707.9 L324.3,707.1 L325.8,706.2 L327.4,705.3 L329.1,704.4 L330.9,703.4 L332.7,702.5 L334.6,701.5 L336.6,700.5 L338.5,699.5 L340.5,698.4 L342.5,697.4 L344.6,696.3 L346.6,695.3 L348.6,694.2 L350.6,693.1 L352.6,692.0 L354.5,690.9 L356.5,689.8 L358.5,688.7 L360.5,687.5 L362.6,686.4 L364.7,685.2 L366.8,684.0 L369.1,682.8 L371.4,681.5 L373.9,680.3 L376.4,679.0 L378.9,677.8 L381.5,676.5 L384.1,675.2 L386.8,673.9 L389.5,672.6 L392.4,671.2 L395.4,669.9 L398.5,668.5 L401.7,667.0 L405.2,665.5 L408.8,664.0 L412.6,662.4 L416.6,660.8 L420.8,659.0 L425.2,657.3 L429.7,655.5 L434.3,653.7 L439.0,651.9 L443.8,650.1 L448.6,648.3 L453.5,646.5 L458.3,644.8 L463.2,643.1 L468.1,641.5 L473.1,639.8 L478.2,638.2 L483.3,636.6 L488.5,635.0 L493.8,633.4 L499.0,631.9 L504.3,630.3 L509.6,628.8 L514.9,627.3 L520.1,625.8 L525.3,624.4 L530.5,623.0 L535.9,621.6 L541.3,620.2 L546.8,618.8 L552.3,617.5 L557.7,616.2 L563.1,614.9 L568.3,613.6 L573.4,612.4 L578.3,611.2 L583.0,610.0 L587.4,608.9 L591.5,607.8 L595.2,606.8 L598.7,605.9 L602.0,605.0 L605.1,604.1 L608.2,603.2 L611.2,602.4 L614.2,601.5 L617.3,600.7 L620.6,599.8 L624.1,598.9 L627.8,598.0 L631.8,597.0 L636.0,596.1 L640.3,595.1 L644.7,594.1 L649.2,593.1 L653.8,592.0 L658.4,591.0 L663.0,590.1 L667.6,589.1 L672.0,588.2 L676.4,587.3 L680.6,586.4 L684.7,585.6 L688.8,584.8 L692.8,584.0 L696.7,583.3 L700.6,582.5 L704.5,581.8 L708.3,581.1 L712.1,580.5 L715.9,579.8 L719.6,579.2 L723.4,578.5 L727.1,577.9 L730.8,577.3 L734.3,576.7 L737.8,576.2 L741.3,575.6 L744.7,575.1 L748.1,574.6 L751.5,574.1 L755.0,573.6 L758.6,573.1 L762.3,572.6 L766.1,572.1 L770.0,571.6 L774.1,571.1 L778.2,570.5 L782.4,569.9 L786.7,569.4 L791.1,568.8 L795.6,568.3 L800.1,567.7 L804.7,567.1 L809.3,566.6 L814.1,566.0 L818.8,565.5 L823.7,565.0 L828.7,564.5 L833.7,564.0 L838.9,563.5 L844.2,563.0 L849.5,562.5 L854.9,562.0 L860.3,561.6 L865.7,561.1 L871.2,560.7 L876.6,560.2 L882.0,559.8 L887.3,559.4 L892.6,559.0 L897.8,558.6 L903.0,558.3 L908.2,557.9 L913.4,557.5 L918.6,557.2 L923.9,556.9 L929.2,556.6 L934.5,556.3 L939.9,556.0 L945.4,555.7 L951.0,555.5 L956.8,555.3 L962.8,555.0 L968.9,554.8 L975.2,554.5 L981.5,554.3 L987.8,554.1 L994.1,553.9 L1000.2,553.8 L1006.2,553.7 L1012.0,553.7 L1017.4,553.8 L1022.6,553.9 L1027.5,554.1 L1032.1,554.3 L1036.6,554.6 L1040.9,555.0 L1045.0,555.4 L1049.0,555.9 L1052.8,556.3 L1056.5,556.9 L1060.1,557.5 L1063.6,558.1 L1067.1,558.7 L1070.4,559.4 L1073.6,560.1 L1076.6,560.9 L1079.5,561.7 L1082.2,562.6 L1084.8,563.5 L1087.3,564.4 L1089.8,565.4 L1092.2,566.4 L1094.6,567.4 L1097.1,568.4 L1099.6,569.5 L1102.2,570.6 L1104.9,571.7 L1107.7,572.9 L1110.5,574.2 L1113.3,575.4 L1116.2,576.7 L1119.0,578.1 L1121.8,579.4 L1124.5,580.7 L1127.1,582.0 L1129.5,583.3 L1131.9,584.5 L1134.0,585.7 L1136.0,586.9 L1137.9,588.1 L1139.8,589.3 L1141.5,590.6 L1143.2,591.8 L1144.7,593.0 L1146.2,594.1 L1147.5,595.2 L1148.7,596.2 L1149.8,597.0 L1150.7,597.8 L1151.5,598.4" fill="none" stroke="#000000" stroke-width="4.3" stroke-linejoin="round" stroke-linecap="round"/>
<path d="M1832.2,1169.5 L1832.3,1168.3 L1832.3,1166.9 L1832.4,1165.5 L1832.5,1163.9 L1832.5,1162.3 L1832.6,1160.5 L1832.7,1158.7 L1832.8,1156.7 L1832.9,1154.7 L1833.0,1152.6 L1833.1,1150.4 L1833.2,1148.2 L1833.3,1145.8 L1833.5,1143.5 L1833.6,1141.0 L1833.7,1138.5 L1833.8,1135.9 L1833.9,1133.3 L1834.1,1130.7 L1834.2,1128.0 L1834.3,1125.3 L1834.5,1122.5 L1834.6,1119.8 L1834.7,1117.0 L1834.9,1114.2 L1835.0,1111.3 L1835.1,1108.5 L1835.3,1105.7 L1835.4,1102.8 L1835.5,1100.0 L1835.7,1097.1 L1835.8,1094.2 L1836.0,1091.2 L1836.1,1088.2 L1836.3,1085.1 L1836.4,1082.0 L1836.6,1078.8 L1836.7,1075.5 L1836.9,1072.2 L1837.0,1068.9 L1837.2,1065.6 L1837.4,1062.2 L1837.5,1058.8 L1837.7,1055.4 L1837.9,1051.9 L1838.0,1048.4 L1838.2,1045.0 L1838.4,1041.5 L1838.5,1038.0 L1838.7,1034.5 L1838.9,1031.0 L1839.0,1027.5 L1839.2,1024.0 L1839.4,1020.5 L1839.5,1017.0 L1839.7,1013.6 L1839.9,1010.1 L1840.0,1006.7 L1840.2,1003.3 L1840.4,1000.0 L1840.5,996.7 L1840.7,993.3 L1840.8,990.0 L1841.0,986.7 L1841.2,983.3 L1841.3,980.0 L1841.5,976.7 L1841.6,973.3 L1841.8,970.0 L1842.0,966.7 L1842.1,963.3 L1842.3,960.0 L1842.5,956.7 L1842.6,953.3 L1842.8,950.0 L1842.9,946.7 L1843.1,943.3 L1843.3,940.0 L1843.4,936.7 L1843.6,933.3 L1843.7,930.0 L1843.9,926.7 L1844.1,923.3 L1844.2,920.0 L1844.4,916.7 L1844.5,913.3 L1844.7,910.0 L1844.9,906.7 L1845.0,903.3 L1845.2,900.0 L1845.3,896.6 L1845.5,893.2 L1845.7,889.8 L1845.8,886.3 L1846.0,882.8 L1846.2,879.2 L1846.4,875.6 L1846.5,872.0 L1846.7,868.4 L1846.9,864.8 L1847.1,861.2 L1847.2,857.6 L1847.4,854.0 L1847.6,850.4 L1847.7,846.9 L1847.9,843.4 L1848.1,839.9 L1848.3,836.4 L1848.4,833.0 L1848.6,829.6 L1848.7,826.3 L1848.9,823.1 L1849.0,819.9 L1849.2,816.8 L1849.3,813.8 L1849.5,810.8 L1849.6,808.0 L1849.8,805.2 L1849.9,802.6 L1850.0,800.0 L1850.1,797.6 L1850.2,795.2 L1850.3,793.0 L1850.4,790.9 L1850.5,788.9 L1850.6,786.9 L1850.7,785.1 L1850.8,783.3 L1850.9,781.6 L1851.0,779.9 L1851.1,778.3 L1851.1,776.8 L1851.2,775.3 L1851.3,773.8 L1851.4,772.4 L1851.4,771.0 L1851.5,769.6 L1851.6,768.2 L1851.6,766.8 L1851.7,765.4 L1851.7,764.0 L1851.8,762.6 L1851.9,761.1 L1851.9,759.7 L1852.0,758.1 L1852.0,756.6 L1852.1,755.0 L1852.2,753.3 L1852.2,751.6 L1852.3,749.8 L1852.4,747.9 L1852.4,746.1 L1852.5,744.1 L1852.5,742.2 L1852.6,740.2 L1852.7,738.2 L1852.7,736.2 L1852.8,734.2 L1852.8,732.1 L1852.9,730.0 L1852.9,728.0 L1853.0,725.9 L1853.0,723.8 L1853.1,721.7 L1853.1,719.6 L1853.1,717.5 L1853.2,715.4 L1853.2,713.3 L1853.3,711.3 L1853.3,709.2 L1853.4,707.2 L1853.4,705.1 L1853.5,703.1 L1853.5,701.2 L1853.6,699.2 L1853.7,697.3 L1853.7,695.4 L1853.8,693.6 L1853.8,691.8 L1853.9,690.0 L1854.0,688.3 L1854.0,686.6 L1854.1,685.1 L1854.1,683.6 L1854.2,682.1 L1854.3,680.7 L1854.3,679.3 L1854.4,678.0 L1854.4,676.6 L1854.5,675.4 L1854.6,674.1 L1854.6,672.8 L1854.7,671.6 L1854.7,670.3 L1854.8,669.0 L1854.9,667.7 L1855.0,666.4 L1855.0,665.1 L1855.1,663.7 L1855.2,662.3 L1855.3,660.9 L1855.3,659.4 L1855.4,657.8 L1855.5,656.2 L1855.6,654.5 L1855.7,652.8 L1855.8,651.0 L1856.0,649.0 L1856.1,647.0 L1856.2,644.9 L1856.3,642.7 L1856.5,640.3 L1856.6,637.9 L1856.8,635.4 L1856.9,632.8 L1857.1,630.1 L1857.3,627.3 L1857.5,624.5 L1857.6,621.6 L1857.8,618.6 L1858.0,615.6 L1858.2,612.6 L1858.4,609.6 L1858.6,606.5 L1858.8,603.4 L1859.0,600.3 L1859.2,597.2 L1859.4,594.1 L1859.6,591.0 L1859.8,587.9 L1860.0,584.9 L1860.2,581.9 L1860.4,578.9 L1860.6,576.0 L1860.8,573.2 L1860.9,570.4 L1861.1,567.7 L1861.3,565.0 L1861.4,562.5 L1861.6,560.0 L1861.8,557.6 L1861.9,555.3 L1862.1,552.9 L1862.2,550.7 L1862.3,548.4 L1862.5,546.2 L1862.6,544.1 L1862.8,542.0 L1862.9,539.9 L1863.0,537.8 L1863.1,535.7 L1863.3,533.7 L1863.4,531.7 L1863.5,529.8 L1863.7,527.8 L1863.8,525.9 L1863.9,524.0 L1864.0,522.1 L1864.1,520.2 L1864.3,518.3 L1864.4,516.5 L1864.5,514.6 L1864.6,512.8 L1864.8,511.0 L1864.9,509.1 L1865.0,507.3 L1865.1,505.5 L1865.2,503.7 L1865.4,501.8 L1865.5,500.0 L1865.6,498.2 L1865.8,496.3 L1865.9,494.5 L1866.0,492.7 L1866.1,490.9 L1866.3,489.0 L1866.4,487.2 L1866.5,485.4 L1866.7,483.6 L1866.8,481.9 L1866.9,480.1 L1867.1,478.3 L1867.2,476.6 L1867.3,474.8 L1867.5,473.1 L1867.6,471.4 L1867.7,469.7 L1867.8,468.1 L1868.0,466.4 L1868.1,464.8 L1868.2,463.2 L1868.3,461.6 L1868.4,460.1 L1868.6,456.5 L1868.9,456.5 L1868.9,449.4 L1869.5,449.4 L1869.5,442.4 L1869.9,442.4 L1869.9,435.3 L1870.4,435.3 L1870.4,428.3 L1871.0,428.3 L1871.0,421.2 L1871.8,421.2 L1871.8,414.1 L1872.6,414.1 L1872.6,407.1 L1873.5,407.1 L1873.5,400.0 L1874.6,400.0 L1874.6,393.0 L1875.6,393.0 L1875.6,385.9 L1876.7,385.9 L1876.7,378.9 L1877.9,378.9 L1877.9,371.8 L1879.0,371.8 L1879.0,364.7 L1880.4,364.7 L1880.4,357.7 L1881.6,357.7 L1881.6,350.6 L1882.9,350.6 L1882.9,343.6 L1884.0,343.6 L1884.0,336.5 L1885.5,336.5 L1885.5,329.4 L1887.5,329.4 L1887.5,322.4 L1890.2,322.4 L1890.2,315.3 L1893.0,315.3 L1893.0,308.3 L1896.3,308.3 L1896.3,301.2 L1901.4,301.2 L1901.4,294.1 L1912.7,294.1 L1912.7,301.2 L1918.2,301.2 L1918.2,308.3 L1923.3,308.3 L1923.3,315.3 L1928.7,315.3 L1928.7,322.4 L1934.6,322.4 L1934.6,329.4 L1940.8,329.4 L1940.8,336.5 L1946.4,336.5 L1946.4,343.6 L1952.5,343.6 L1952.5,350.6 L1958.0,350.6 L1958.0,357.7 L1964.1,357.7 L1964.1,364.7 L1970.2,364.7 L1970.2,371.8 L1976.7,371.8 L1976.7,378.9 L1983.7,378.9 L1983.7,385.9 L1990.5,385.9 L1990.5,393.0 L1997.6,393.0 L1997.6,400.0 L2004.3,400.0 L2004.3,407.1 L2010.4,407.1 L2010.4,414.1 L2017.1,414.1 L2017.1,421.2 L2023.4,421.2 L2023.4,428.3 L2029.7,428.3 L2029.7,435.3 L2036.1,435.3 L2036.1,442.4 L2043.2,442.4 L2043.2,449.4 L2050.2,449.4 L2050.2,456.5 L2053.6,456.5 L2053.8,460.2 L2054.1,460.6 L2054.4,461.0 L2054.7,461.5 L2055.1,461.9 L2055.5,462.4 L2055.9,463.0 L2056.3,463.5 L2056.7,464.0 L2057.2,464.6 L2057.6,465.2 L2058.1,465.8 L2058.6,466.4 L2059.1,467.1 L2059.6,467.7 L2060.2,468.4 L2060.7,469.0 L2061.3,469.7 L2061.8,470.4 L2062.4,471.1 L2063.0,471.8 L2063.6,472.5 L2064.1,473.1 L2064.7,473.8 L2065.3,474.5 L2065.9,475.2 L2066.5,475.9 L2067.1,476.6 L2067.7,477.3 L2068.3,478.0 L2068.8,478.7 L2069.4,479.3 L2070.0,480.0 L2070.6,480.7 L2071.2,481.4 L2071.8,482.1 L2072.5,482.8 L2073.1,483.5 L2073.8,484.3 L2074.5,485.1 L2075.2,485.8 L2075.9,486.6 L2076.7,487.4 L2077.4,488.2 L2078.1,489.0 L2078.8,489.8 L2079.6,490.6 L2080.3,491.3 L2081.0,492.1 L2081.7,492.8 L2082.4,493.6 L2083.0,494.3 L2083.7,495.0 L2084.3,495.7 L2084.9,496.3 L2085.5,496.9 L2086.0,497.5 L2086.5,498.1 L2087.0,498.6 L2087.5,499.1 L2087.9,499.5 L2088.3,499.9 L2088.6,500.3" fill="none" stroke="#0F9ED5" stroke-width="4.3" stroke-linejoin="round" stroke-linecap="round"/>
<path d="M1832.2,1169.5 L1832.3,1166.2 L1832.5,1162.3 L1832.6,1157.7 L1832.8,1152.6 L1833.0,1147.0 L1833.3,1141.0 L1833.5,1134.6 L1833.8,1128.0 L1834.0,1121.1 L1834.3,1114.2 L1834.6,1107.1 L1834.8,1100.0 L1835.1,1092.7 L1835.4,1085.1 L1835.7,1077.1 L1836.0,1068.9 L1836.3,1060.5 L1836.6,1051.9 L1837.0,1043.2 L1837.3,1034.5 L1837.6,1025.7 L1837.9,1017.0 L1838.3,1008.4 L1838.6,1000.0 L1838.9,991.6 L1839.2,983.0 L1839.6,974.3 L1839.9,965.6 L1840.2,956.8 L1840.5,948.1 L1840.9,939.5 L1841.2,931.1 L1841.5,922.9 L1841.8,914.9 L1842.1,907.3 L1842.4,900.0 L1842.6,893.1 L1842.9,886.7 L1843.1,880.6 L1843.3,874.8 L1843.5,869.2 L1843.7,863.8 L1843.9,858.4 L1844.1,853.0 L1844.3,847.5 L1844.5,841.9 L1844.8,836.1 L1845.0,830.0 L1845.3,823.6 L1845.6,817.0 L1845.9,810.2 L1846.2,803.3 L1846.5,796.4 L1846.8,789.4 L1847.1,782.4 L1847.4,775.6 L1847.7,768.8 L1848.0,762.3 L1848.3,756.0 L1848.5,750.0 L1848.7,744.2 L1848.9,738.5 L1849.0,732.9 L1849.1,727.4 L1849.3,722.1 L1849.4,716.9 L1849.5,711.9 L1849.6,707.0 L1849.7,702.4 L1849.8,698.0 L1849.9,693.9 L1850.0,690.0 L1850.1,686.5 L1850.2,683.6 L1850.4,681.1 L1850.5,678.9 L1850.6,676.9 L1850.7,675.0 L1850.8,673.1 L1850.9,671.1 L1851.1,668.9 L1851.2,666.4 L1851.3,663.5 L1851.5,660.0 L1851.7,656.0 L1851.9,651.5 L1852.1,646.6 L1852.3,641.5 L1852.5,636.1 L1852.7,630.6 L1852.9,625.1 L1853.2,619.6 L1853.4,614.3 L1853.6,609.2 L1853.8,604.4 L1854.0,600.0 L1854.2,596.0 L1854.4,592.4 L1854.6,589.1 L1854.8,585.9 L1855.0,582.9 L1855.1,580.0 L1855.3,577.1 L1855.5,574.1 L1855.7,570.9 L1855.9,567.6 L1856.0,564.0 L1856.2,560.0 L1856.4,555.7 L1856.5,551.1 L1856.7,546.3 L1856.8,541.3 L1857.0,536.2 L1857.1,530.9 L1857.3,525.7 L1857.4,520.4 L1857.6,515.1 L1857.7,509.9 L1857.9,504.9 L1858.0,500.0 L1858.1,495.2 L1858.3,490.4 L1858.4,485.7 L1858.5,480.9 L1858.6,476.2 L1858.7,471.6 L1858.9,467.0 L1859.0,462.4 L1859.1,457.9 L1859.2,453.5 L1859.4,449.2 L1859.5,445.0 L1859.6,440.9 L1859.8,437.0 L1860.0,433.2 L1860.1,429.4 L1860.3,425.8 L1860.5,422.2 L1860.6,418.6 L1860.8,415.0 L1861.0,411.4 L1861.2,407.7 L1861.3,403.9 L1861.5,400.0 L1861.7,396.0 L1861.8,392.0 L1862.0,387.9 L1862.1,383.7 L1862.3,379.5 L1862.4,375.3 L1862.6,371.1 L1862.8,366.9 L1862.9,362.6 L1863.1,358.4 L1863.3,354.2 L1863.5,350.0 L1863.7,345.8 L1863.9,341.5 L1864.2,337.1 L1864.4,332.7 L1864.7,328.3 L1865.0,323.9 L1865.2,319.6 L1865.5,315.4 L1865.8,311.3 L1866.0,307.3 L1866.3,303.6 L1866.5,300.0 L1866.7,296.7 L1866.9,293.5 L1867.1,290.5 L1867.3,287.6 L1867.5,284.9 L1867.7,282.2 L1867.9,279.7 L1868.1,277.2 L1868.3,274.7 L1868.5,272.2 L1868.7,269.8 L1868.9,267.3 L1869.1,264.8 L1869.3,262.4 L1869.5,260.0 L1869.7,257.7 L1870.0,255.4 L1870.2,253.2 L1870.4,250.9 L1870.6,248.7 L1870.8,246.5 L1871.1,244.4 L1871.3,242.2 L1871.5,240.0 L1871.7,237.8 L1871.9,235.7 L1872.1,233.6 L1872.3,231.6 L1872.6,229.5 L1872.8,227.5 L1873.0,225.4 L1873.2,223.4 L1873.5,221.3 L1873.7,219.3 L1874.0,217.1 L1874.3,215.0 L1874.6,212.8 L1875.0,210.6 L1875.3,208.3 L1875.7,206.0 L1876.0,203.7 L1876.4,201.4 L1876.8,199.1 L1877.2,196.9 L1877.7,194.6 L1878.1,192.3 L1878.5,190.2 L1879.0,188.0 L1879.5,185.9 L1880.0,183.7 L1880.5,181.5 L1881.0,179.4 L1881.6,177.2 L1882.1,175.1 L1882.7,173.1 L1883.2,171.1 L1883.8,169.2 L1884.4,167.3 L1884.9,165.6 L1885.5,164.0 L1886.1,162.5 L1886.6,161.1 L1887.2,159.7 L1887.8,158.5 L1888.4,157.3 L1889.0,156.2 L1889.6,155.2 L1890.1,154.2 L1890.7,153.3 L1891.3,152.5 L1891.9,151.7 L1892.5,151.0 L1893.1,150.4 L1893.7,149.8 L1894.2,149.3 L1894.8,148.9 L1895.4,148.6 L1896.0,148.3 L1896.5,148.1 L1897.1,148.0 L1897.7,147.8 L1898.3,147.8 L1898.9,147.7 L1899.5,147.7 L1900.1,147.7 L1900.7,147.8 L1901.4,147.9 L1902.0,148.0 L1902.6,148.2 L1903.3,148.5 L1903.9,148.7 L1904.6,149.1 L1905.2,149.5 L1905.9,149.9 L1906.6,150.4 L1907.3,151.0 L1908.0,151.6 L1908.7,152.3 L1909.4,153.1 L1910.1,153.9 L1910.9,154.7 L1911.6,155.6 L1912.4,156.6 L1913.1,157.6 L1913.9,158.6 L1914.8,159.7 L1915.6,160.8 L1916.5,162.0 L1917.4,163.2 L1918.3,164.4 L1919.2,165.6 L1920.1,166.8 L1921.0,168.1 L1921.9,169.5 L1922.9,170.8 L1924.0,172.3 L1925.1,173.8 L1926.3,175.5 L1927.6,177.2 L1929.0,179.0 L1930.5,181.0 L1932.2,183.1 L1933.9,185.3 L1935.7,187.6 L1937.6,190.1 L1939.6,192.5 L1941.6,195.0 L1943.5,197.5 L1945.5,199.9 L1947.5,202.3 L1949.4,204.6 L1951.3,206.8 L1953.1,208.9 L1955.0,210.9 L1956.8,212.9 L1958.6,214.9 L1960.4,216.8 L1962.2,218.7 L1964.0,220.6 L1965.8,222.4 L1967.6,224.3 L1969.4,226.2 L1971.2,228.1 L1973.0,230.0 L1974.8,231.9 L1976.7,233.9 L1978.6,235.9 L1980.5,237.9 L1982.4,239.9 L1984.3,241.9 L1986.2,243.9 L1988.0,245.9 L1989.8,247.8 L1991.5,249.6 L1993.1,251.4 L1994.7,253.1 L1996.2,254.7 L1997.5,256.3 L1998.8,257.8 L2000.1,259.3 L2001.3,260.7 L2002.4,262.1 L2003.6,263.4 L2004.7,264.8 L2005.8,266.1 L2006.9,267.4 L2008.0,268.7 L2009.2,270.0 L2010.4,271.3 L2011.6,272.5 L2012.9,273.7 L2014.1,274.9 L2015.4,276.0 L2016.6,277.2 L2017.8,278.3 L2019.0,279.5 L2020.1,280.7 L2021.2,281.9 L2022.2,283.2 L2023.2,284.5 L2024.1,285.9 L2025.0,287.5 L2025.9,289.2 L2026.7,290.9 L2027.5,292.7 L2028.2,294.4 L2028.9,296.1 L2029.6,297.7 L2030.1,299.2 L2030.7,300.5 L2031.1,301.6 L2031.5,302.5" fill="none" stroke="#FFC000" stroke-width="4.3" stroke-linejoin="round" stroke-linecap="round"/>
<path d="M1832.2,1169.5 L1832.3,1166.2 L1832.4,1162.3 L1832.6,1157.7 L1832.7,1152.6 L1832.9,1147.0 L1833.1,1141.0 L1833.2,1134.6 L1833.4,1128.0 L1833.7,1121.1 L1833.9,1114.2 L1834.1,1107.1 L1834.3,1100.0 L1834.5,1092.7 L1834.7,1085.1 L1835.0,1077.1 L1835.2,1068.9 L1835.5,1060.5 L1835.7,1051.9 L1836.0,1043.2 L1836.3,1034.5 L1836.5,1025.7 L1836.8,1017.0 L1837.0,1008.4 L1837.3,1000.0 L1837.5,991.7 L1837.8,983.3 L1838.0,975.0 L1838.3,966.7 L1838.5,958.3 L1838.8,950.0 L1839.0,941.7 L1839.3,933.3 L1839.5,925.0 L1839.8,916.7 L1840.0,908.3 L1840.3,900.0 L1840.5,891.7 L1840.8,883.4 L1841.0,875.2 L1841.3,867.0 L1841.5,858.8 L1841.8,850.6 L1842.0,842.4 L1842.2,834.1 L1842.5,825.7 L1842.8,817.2 L1843.0,808.7 L1843.3,800.0 L1843.6,791.1 L1843.9,782.0 L1844.2,772.7 L1844.5,763.3 L1844.8,753.9 L1845.2,744.4 L1845.5,734.9 L1845.8,725.6 L1846.1,716.3 L1846.4,707.3 L1846.7,698.5 L1847.0,690.0 L1847.3,681.7 L1847.5,673.6 L1847.8,665.6 L1848.1,657.7 L1848.3,650.0 L1848.6,642.4 L1848.8,634.9 L1849.1,627.6 L1849.3,620.5 L1849.5,613.5 L1849.8,606.7 L1850.0,600.0 L1850.2,593.6 L1850.4,587.6 L1850.6,581.8 L1850.8,576.3 L1851.0,570.9 L1851.2,565.6 L1851.4,560.3 L1851.6,555.0 L1851.7,549.6 L1851.9,544.1 L1852.1,538.3 L1852.3,532.2 L1852.5,525.8 L1852.7,519.2 L1852.9,512.4 L1853.1,505.4 L1853.3,498.3 L1853.5,491.2 L1853.7,484.1 L1853.9,477.0 L1854.1,470.0 L1854.3,463.1 L1854.4,456.5 L1854.6,450.0 L1854.8,443.7 L1854.9,437.4 L1855.1,431.1 L1855.2,424.9 L1855.4,418.8 L1855.5,412.8 L1855.7,406.9 L1855.8,401.2 L1855.9,395.7 L1856.1,390.3 L1856.2,385.2 L1856.3,380.3 L1856.4,375.6 L1856.5,371.1 L1856.6,366.8 L1856.7,362.6 L1856.8,358.6 L1856.9,354.8 L1857.0,351.1 L1857.1,347.6 L1857.1,344.3 L1857.3,341.2 L1857.4,338.3 L1857.5,335.5 L1857.6,333.1 L1857.8,331.1 L1857.9,329.5 L1858.1,328.2 L1858.3,327.1 L1858.4,326.0 L1858.6,324.9 L1858.8,323.7 L1859.0,322.3 L1859.2,320.6 L1859.4,318.6 L1859.6,316.0 L1859.8,312.9 L1860.1,309.5 L1860.3,305.7 L1860.6,301.7 L1860.9,297.5 L1861.2,293.1 L1861.5,288.7 L1861.7,284.2 L1862.0,279.8 L1862.3,275.4 L1862.6,271.2 L1862.9,267.3 L1863.2,263.5 L1863.5,259.7 L1863.7,256.0 L1864.0,252.3 L1864.3,248.6 L1864.6,245.0 L1864.9,241.4 L1865.2,237.8 L1865.4,234.4 L1865.7,231.0 L1866.0,227.7 L1866.3,224.4 L1866.6,221.2 L1866.9,218.0 L1867.2,214.8 L1867.5,211.7 L1867.8,208.6 L1868.1,205.6 L1868.4,202.7 L1868.7,199.9 L1869.0,197.3 L1869.2,194.7 L1869.5,192.3 L1869.7,190.1 L1869.9,188.1 L1870.1,186.2 L1870.2,184.6 L1870.3,183.1 L1870.4,181.7 L1870.5,180.4 L1870.7,179.2 L1870.8,178.0 L1870.9,176.8 L1871.1,175.6 L1871.3,174.3 L1871.5,172.9 L1871.8,171.5 L1872.0,170.0 L1872.3,168.5 L1872.6,167.0 L1872.9,165.5 L1873.2,164.0 L1873.6,162.6 L1874.0,161.1 L1874.4,159.7 L1874.8,158.4 L1875.3,157.0 L1875.8,155.8 L1876.3,154.6 L1876.9,153.4 L1877.5,152.2 L1878.1,151.1 L1878.8,150.0 L1879.5,148.9 L1880.2,147.9 L1880.9,147.0 L1881.7,146.1 L1882.5,145.2 L1883.4,144.4 L1884.3,143.7 L1885.2,143.1 L1886.2,142.5 L1887.2,142.0 L1888.3,141.6 L1889.3,141.3 L1890.4,141.0 L1891.6,140.7 L1892.8,140.4 L1894.0,140.2 L1895.3,140.0 L1896.7,139.7 L1898.1,139.5 L1899.6,139.3 L1901.1,139.0 L1902.7,138.8 L1904.3,138.6 L1906.0,138.4 L1907.7,138.2 L1909.4,138.0 L1911.2,137.9 L1913.1,137.8 L1914.9,137.7 L1916.8,137.6 L1918.7,137.6 L1920.7,137.6 L1922.7,137.6 L1924.9,137.6 L1927.1,137.7 L1929.3,137.8 L1931.5,137.9 L1933.7,138.0 L1935.9,138.2 L1938.1,138.3 L1940.2,138.5 L1942.2,138.8 L1944.1,139.0 L1945.9,139.3 L1947.6,139.6 L1949.3,139.9 L1950.9,140.2 L1952.5,140.5 L1954.0,140.9 L1955.5,141.3 L1957.0,141.8 L1958.5,142.2 L1959.9,142.7 L1961.4,143.3 L1962.9,143.9 L1964.4,144.5 L1965.8,145.2 L1967.2,145.9 L1968.6,146.7 L1970.0,147.5 L1971.4,148.3 L1972.7,149.2 L1974.2,150.1 L1975.6,151.0 L1977.1,152.0 L1978.6,153.0 L1980.2,154.0 L1981.9,155.1 L1983.6,156.2 L1985.3,157.4 L1987.1,158.6 L1989.0,159.8 L1990.8,161.1 L1992.7,162.4 L1994.6,163.7 L1996.5,165.0 L1998.3,166.4 L2000.2,167.8 L2002.0,169.2 L2003.8,170.7 L2005.7,172.2 L2007.6,173.7 L2009.5,175.3 L2011.4,177.0 L2013.3,178.6 L2015.1,180.3 L2016.9,181.9 L2018.7,183.5 L2020.5,185.0 L2022.1,186.6 L2023.7,188.0 L2025.2,189.4 L2026.7,190.8 L2028.1,192.2 L2029.5,193.5 L2030.9,194.9 L2032.2,196.2 L2033.4,197.5 L2034.6,198.7 L2035.8,199.8 L2036.9,201.0 L2038.0,202.0 L2039.0,203.0 L2040.0,203.9 L2040.9,204.7 L2041.7,205.5 L2042.5,206.1 L2043.2,206.8 L2043.9,207.4 L2044.6,207.9 L2045.2,208.5 L2045.9,209.0 L2046.4,209.6 L2047.0,210.2 L2047.6,210.8 L2048.2,211.4 L2048.7,212.1 L2049.2,212.7 L2049.7,213.3 L2050.1,213.9 L2050.6,214.5 L2051.0,215.2 L2051.4,215.8 L2051.7,216.4 L2052.1,217.1 L2052.4,217.7 L2052.7,218.4 L2053.0,219.1 L2053.2,219.9 L2053.4,220.7 L2053.6,221.6 L2053.8,222.4 L2054.0,223.3 L2054.1,224.1 L2054.2,224.9 L2054.3,225.6 L2054.4,226.2 L2054.5,226.8 L2054.6,227.2" fill="none" stroke="#A02B93" stroke-width="4.3" stroke-linejoin="round" stroke-linecap="round"/>
<path d="M1832.2,1169.5 L1832.3,1166.2 L1832.4,1162.3 L1832.6,1157.7 L1832.7,1152.6 L1832.9,1147.0 L1833.1,1141.0 L1833.3,1134.6 L1833.5,1128.0 L1833.8,1121.1 L1834.0,1114.2 L1834.2,1107.1 L1834.4,1100.0 L1834.7,1092.7 L1834.9,1085.1 L1835.2,1077.1 L1835.4,1068.9 L1835.7,1060.5 L1836.0,1051.9 L1836.3,1043.2 L1836.5,1034.5 L1836.8,1025.7 L1837.1,1017.0 L1837.4,1008.4 L1837.6,1000.0 L1837.9,991.6 L1838.2,983.0 L1838.5,974.3 L1838.7,965.6 L1839.0,956.8 L1839.3,948.1 L1839.6,939.5 L1839.9,931.1 L1840.1,922.9 L1840.4,914.9 L1840.6,907.3 L1840.9,900.0 L1841.1,893.1 L1841.3,886.4 L1841.5,880.0 L1841.7,873.9 L1841.9,867.9 L1842.1,862.1 L1842.3,856.5 L1842.5,851.0 L1842.7,845.7 L1842.8,840.4 L1843.0,835.2 L1843.1,830.0 L1843.2,825.0 L1843.3,820.4 L1843.4,816.1 L1843.5,812.0 L1843.6,808.0 L1843.6,804.0 L1843.7,800.0 L1843.7,795.8 L1843.8,791.4 L1843.9,786.7 L1843.9,781.6 L1844.0,776.0 L1844.1,769.9 L1844.1,763.3 L1844.2,756.4 L1844.3,749.1 L1844.3,741.6 L1844.4,734.0 L1844.4,726.3 L1844.5,718.7 L1844.6,711.1 L1844.7,703.8 L1844.8,696.7 L1845.0,690.0 L1845.2,683.6 L1845.4,677.3 L1845.6,671.1 L1845.8,665.1 L1846.1,659.2 L1846.4,653.4 L1846.6,647.6 L1846.9,642.0 L1847.2,636.4 L1847.5,630.9 L1847.7,625.4 L1848.0,620.0 L1848.3,614.6 L1848.5,609.4 L1848.8,604.3 L1849.1,599.3 L1849.4,594.3 L1849.7,589.4 L1850.0,584.5 L1850.3,579.6 L1850.6,574.8 L1850.8,569.9 L1851.1,565.0 L1851.3,560.0 L1851.5,555.0 L1851.7,549.9 L1851.9,544.8 L1852.1,539.6 L1852.2,534.5 L1852.4,529.4 L1852.5,524.3 L1852.7,519.3 L1852.8,514.3 L1853.0,509.4 L1853.2,504.6 L1853.4,500.0 L1853.6,495.5 L1853.8,491.1 L1854.1,486.9 L1854.3,482.7 L1854.6,478.6 L1854.8,474.5 L1855.1,470.5 L1855.3,466.5 L1855.6,462.4 L1855.8,458.4 L1856.1,454.2 L1856.3,450.0 L1856.5,445.7 L1856.8,441.4 L1857.0,437.0 L1857.2,432.6 L1857.4,428.3 L1857.6,423.8 L1857.8,419.4 L1858.0,415.0 L1858.3,410.6 L1858.5,406.2 L1858.7,401.8 L1858.9,397.5 L1859.1,393.1 L1859.3,388.7 L1859.6,384.2 L1859.8,379.6 L1860.0,375.1 L1860.2,370.6 L1860.4,366.2 L1860.6,361.9 L1860.9,357.6 L1861.1,353.6 L1861.3,349.7 L1861.5,346.0 L1861.7,342.5 L1861.9,339.2 L1862.1,336.0 L1862.3,333.0 L1862.6,330.1 L1862.8,327.3 L1863.0,324.5 L1863.2,321.9 L1863.4,319.3 L1863.6,316.7 L1863.9,314.2 L1864.1,311.6 L1864.3,309.1 L1864.6,306.7 L1864.8,304.5 L1865.1,302.3 L1865.3,300.2 L1865.5,298.0 L1865.8,295.9 L1866.1,293.8 L1866.3,291.6 L1866.6,289.3 L1866.9,287.0 L1867.2,284.5 L1867.5,281.9 L1867.8,279.1 L1868.2,276.2 L1868.5,273.2 L1868.8,270.2 L1869.2,267.2 L1869.5,264.1 L1869.9,261.1 L1870.3,258.2 L1870.7,255.4 L1871.1,252.7 L1871.5,250.2 L1871.9,247.8 L1872.4,245.5 L1872.9,243.3 L1873.3,241.1 L1873.8,239.0 L1874.3,237.0 L1874.9,235.0 L1875.4,233.1 L1875.9,231.3 L1876.4,229.5 L1877.0,227.8 L1877.5,226.1 L1878.0,224.5 L1878.5,223.0 L1879.1,221.6 L1879.6,220.3 L1880.1,219.0 L1880.6,217.8 L1881.2,216.6 L1881.7,215.4 L1882.3,214.2 L1883.0,213.1 L1883.6,211.9 L1884.3,210.7 L1885.0,209.5 L1885.8,208.3 L1886.6,207.1 L1887.4,205.9 L1888.3,204.7 L1889.1,203.5 L1890.0,202.4 L1890.9,201.3 L1891.8,200.1 L1892.7,199.1 L1893.7,198.0 L1894.6,197.0 L1895.5,196.0 L1896.5,195.0 L1897.5,194.1 L1898.5,193.1 L1899.5,192.2 L1900.5,191.3 L1901.6,190.5 L1902.6,189.6 L1903.6,188.8 L1904.7,188.1 L1905.7,187.4 L1906.7,186.7 L1907.7,186.1 L1908.6,185.5 L1909.6,185.0 L1910.5,184.5 L1911.4,184.1 L1912.3,183.7 L1913.3,183.3 L1914.3,182.9 L1915.3,182.6 L1916.3,182.2 L1917.5,181.9 L1918.7,181.5 L1920.0,181.1 L1921.2,180.8 L1922.5,180.5 L1923.9,180.2 L1925.3,179.9 L1926.7,179.6 L1928.2,179.3 L1929.7,179.0 L1931.4,178.8 L1933.1,178.5 L1934.9,178.2 L1936.8,177.9 L1938.9,177.6 L1941.1,177.3 L1943.5,176.9 L1945.9,176.5 L1948.5,176.2 L1951.1,175.8 L1953.7,175.5 L1956.3,175.2 L1958.8,174.9 L1961.3,174.7 L1963.6,174.4 L1965.8,174.3 L1967.9,174.2 L1969.8,174.1 L1971.7,174.1 L1973.6,174.1 L1975.4,174.1 L1977.1,174.2 L1978.8,174.2 L1980.5,174.3 L1982.2,174.5 L1984.0,174.6 L1985.7,174.8 L1987.5,175.0 L1989.3,175.2 L1991.1,175.5 L1992.9,175.8 L1994.7,176.1 L1996.5,176.4 L1998.3,176.7 L2000.2,177.1 L2002.0,177.5 L2003.8,177.9 L2005.6,178.4 L2007.4,178.8 L2009.2,179.3 L2011.0,179.8 L2013.0,180.4 L2014.9,181.0 L2016.9,181.6 L2018.9,182.3 L2020.8,183.0 L2022.8,183.6 L2024.6,184.3 L2026.4,184.9 L2028.0,185.5 L2029.5,186.1 L2030.9,186.6 L2032.0,187.0 L2033.0,187.4 L2033.7,187.6 L2034.3,187.9 L2034.8,188.1 L2035.2,188.3 L2035.7,188.5 L2036.2,188.8 L2036.9,189.1 L2037.7,189.5 L2038.7,189.9 L2040.0,190.5 L2041.5,191.2 L2043.3,192.0 L2045.2,192.8 L2047.2,193.7 L2049.4,194.7 L2051.6,195.6 L2053.9,196.7 L2056.3,197.7 L2058.6,198.8 L2060.9,199.8 L2063.1,200.9 L2065.3,201.9 L2067.4,202.9 L2069.5,203.9 L2071.6,205.0 L2073.7,206.0 L2075.8,207.0 L2077.9,208.1 L2080.1,209.2 L2082.2,210.2 L2084.3,211.3 L2086.4,212.4 L2088.5,213.5 L2090.6,214.6 L2092.7,215.7 L2094.8,216.8 L2096.9,217.9 L2099.1,219.1 L2101.2,220.2 L2103.3,221.3 L2105.4,222.5 L2107.5,223.6 L2109.7,224.8 L2111.8,226.0 L2113.9,227.3 L2116.0,228.5 L2118.1,229.8 L2120.3,231.1 L2122.5,232.5 L2124.7,233.9 L2126.9,235.3 L2129.1,236.7 L2131.2,238.1 L2133.3,239.5 L2135.4,240.9 L2137.4,242.3 L2139.4,243.6 L2141.3,244.9 L2143.1,246.2 L2144.9,247.4 L2146.6,248.6 L2148.3,249.8 L2149.9,251.0 L2151.5,252.2 L2153.1,253.4 L2154.6,254.5 L2156.1,255.6 L2157.5,256.7 L2158.9,257.8 L2160.3,258.9 L2161.7,260.0 L2163.1,261.1 L2164.5,262.2 L2165.8,263.3 L2167.2,264.4 L2168.4,265.5 L2169.7,266.5 L2170.8,267.4 L2171.8,268.3 L2172.7,269.1 L2173.5,269.8 L2174.2,270.3" fill="none" stroke="#00B050" stroke-width="4.3" stroke-linejoin="round" stroke-linecap="round"/>
<path d="M1832.2,1169.5 L1832.3,1166.2 L1832.3,1162.3 L1832.4,1157.7 L1832.5,1152.6 L1832.6,1147.0 L1832.7,1141.0 L1832.8,1134.6 L1832.9,1128.0 L1833.0,1121.1 L1833.1,1114.2 L1833.2,1107.1 L1833.4,1100.0 L1833.5,1092.7 L1833.6,1085.1 L1833.8,1077.1 L1833.9,1068.9 L1834.0,1060.5 L1834.2,1051.9 L1834.3,1043.2 L1834.5,1034.5 L1834.6,1025.7 L1834.8,1017.0 L1834.9,1008.4 L1835.0,1000.0 L1835.2,991.6 L1835.3,983.0 L1835.5,974.3 L1835.6,965.6 L1835.8,956.8 L1835.9,948.1 L1836.1,939.5 L1836.2,931.1 L1836.3,922.9 L1836.5,914.9 L1836.6,907.3 L1836.7,900.0 L1836.8,893.1 L1837.0,886.6 L1837.1,880.4 L1837.2,874.4 L1837.3,868.7 L1837.4,863.1 L1837.5,857.6 L1837.6,852.2 L1837.7,846.8 L1837.8,841.3 L1837.8,835.7 L1837.9,830.0 L1837.9,824.2 L1838.0,818.3 L1838.0,812.5 L1838.0,806.7 L1838.0,800.8 L1838.0,795.0 L1838.0,789.2 L1838.0,783.3 L1838.0,777.5 L1838.0,771.7 L1838.0,765.8 L1838.0,760.0 L1838.0,754.0 L1838.0,747.7 L1838.0,741.2 L1838.0,734.6 L1838.0,727.9 L1838.0,721.4 L1838.0,715.1 L1838.1,709.1 L1838.1,703.5 L1838.2,698.4 L1838.3,693.8 L1838.5,690.0 L1838.7,687.0 L1839.0,684.8 L1839.3,683.3 L1839.6,682.3 L1840.0,681.8 L1840.4,681.4 L1840.8,681.2 L1841.2,681.0 L1841.6,680.6 L1841.9,679.9 L1842.2,678.7 L1842.5,677.0 L1842.7,674.7 L1843.0,672.2 L1843.2,669.4 L1843.3,666.4 L1843.5,663.2 L1843.7,659.8 L1843.8,656.5 L1844.0,653.0 L1844.1,649.6 L1844.2,646.3 L1844.4,643.1 L1844.5,640.0 L1844.6,637.1 L1844.7,634.2 L1844.8,631.5 L1844.9,628.7 L1845.0,626.0 L1845.1,623.3 L1845.2,620.5 L1845.3,617.7 L1845.4,614.8 L1845.5,611.9 L1845.6,608.8 L1845.7,605.5 L1845.8,602.0 L1845.9,598.3 L1846.1,594.4 L1846.2,590.3 L1846.3,586.1 L1846.4,582.0 L1846.6,577.9 L1846.7,573.9 L1846.9,570.0 L1847.1,566.4 L1847.3,563.0 L1847.5,560.0 L1847.7,557.3 L1848.0,554.8 L1848.3,552.5 L1848.6,550.4 L1848.9,548.5 L1849.2,546.7 L1849.6,545.0 L1849.9,543.4 L1850.3,541.9 L1850.6,540.5 L1851.0,539.1 L1851.3,537.7 L1851.6,536.4 L1852.0,535.2 L1852.3,534.1 L1852.6,533.2 L1852.9,532.3 L1853.3,531.5 L1853.6,530.7 L1854.0,529.9 L1854.4,529.2 L1854.8,528.4 L1855.2,527.6 L1855.6,526.8 L1856.1,525.9 L1856.5,525.1 L1857.0,524.2 L1857.5,523.4 L1858.0,522.5 L1858.6,521.7 L1859.1,520.9 L1859.7,520.1 L1860.3,519.3 L1860.9,518.5 L1861.5,517.7 L1862.1,517.0 L1862.7,516.3 L1863.4,515.6 L1864.0,515.0 L1864.7,514.3 L1865.4,513.7 L1866.0,513.1 L1866.8,512.5 L1867.5,511.9 L1868.3,511.3 L1869.1,510.7 L1869.9,510.1 L1870.8,509.5 L1871.7,508.9 L1872.6,508.3 L1873.5,507.6 L1874.5,507.0 L1875.5,506.4 L1876.5,505.8 L1877.5,505.1 L1878.7,504.5 L1879.8,503.9 L1881.1,503.2 L1882.4,502.6 L1883.8,501.9 L1885.3,501.2 L1886.8,500.5 L1888.5,499.8 L1890.2,499.1 L1891.9,498.4 L1893.8,497.7 L1895.6,497.0 L1897.5,496.3 L1899.5,495.5 L1901.5,494.8 L1903.5,494.0 L1905.5,493.2 L1907.6,492.4 L1909.7,491.6 L1911.9,490.7 L1914.2,489.8 L1916.4,488.9 L1918.8,488.0 L1921.1,487.1 L1923.4,486.2 L1925.8,485.4 L1928.1,484.5 L1930.4,483.7 L1932.7,482.9 L1935.0,482.1 L1937.2,481.4 L1939.5,480.7 L1941.7,479.9 L1943.9,479.2 L1946.2,478.6 L1948.4,477.9 L1950.7,477.2 L1953.0,476.6 L1955.2,475.9 L1957.5,475.3 L1959.8,474.7 L1962.1,474.1 L1964.4,473.5 L1966.8,472.9 L1969.2,472.3 L1971.5,471.8 L1973.9,471.2 L1976.3,470.7 L1978.6,470.2 L1981.0,469.7 L1983.3,469.2 L1985.6,468.7 L1987.9,468.2 L1990.2,467.7 L1992.4,467.3 L1994.7,466.8 L1997.0,466.4 L1999.2,466.0 L2001.5,465.6 L2003.7,465.2 L2005.8,464.8 L2008.0,464.4 L2010.1,464.0 L2012.1,463.7 L2014.1,463.3 L2016.0,462.9 L2018.0,462.6 L2019.8,462.3 L2021.7,461.9 L2023.5,461.6 L2025.2,461.3 L2026.9,461.0 L2028.6,460.7 L2030.3,460.4 L2031.9,460.1 L2033.5,459.8 L2035.0,459.5 L2036.5,459.2 L2037.8,459.0 L2039.0,458.7 L2040.2,458.5 L2041.4,458.2 L2042.5,458.0 L2043.7,457.8 L2044.9,457.6 L2046.1,457.3 L2047.5,457.1 L2049.0,456.8 L2050.6,456.6 L2052.4,456.3 L2054.3,456.1 L2056.2,455.8 L2058.3,455.5 L2060.4,455.3 L2062.6,455.0 L2064.9,454.7 L2067.1,454.4 L2069.3,454.2 L2071.6,453.9 L2073.8,453.6 L2075.9,453.4 L2078.0,453.2 L2080.1,452.9 L2082.2,452.7 L2084.4,452.5 L2086.5,452.3 L2088.6,452.1 L2090.7,451.9 L2092.8,451.7 L2095.0,451.5 L2097.1,451.3 L2099.2,451.1 L2101.3,450.9 L2103.4,450.7 L2105.4,450.5 L2107.4,450.4 L2109.4,450.2 L2111.4,450.0 L2113.5,449.9 L2115.5,449.7 L2117.6,449.6 L2119.7,449.4 L2121.9,449.3 L2124.2,449.1 L2126.6,449.0 L2129.1,448.9 L2131.7,448.7 L2134.3,448.6 L2137.0,448.5 L2139.8,448.3 L2142.6,448.2 L2145.4,448.1 L2148.3,448.0 L2151.2,447.9 L2154.2,447.8 L2157.1,447.7 L2160.0,447.6 L2162.9,447.5 L2165.8,447.5 L2168.7,447.4 L2171.6,447.4 L2174.5,447.3 L2177.5,447.3 L2180.5,447.3 L2183.5,447.3 L2186.7,447.3 L2189.9,447.3 L2193.2,447.3 L2196.6,447.3 L2200.2,447.3 L2204.0,447.4 L2207.9,447.4 L2212.0,447.5 L2216.1,447.5 L2220.2,447.6 L2224.4,447.7 L2228.5,447.8 L2232.4,447.9 L2236.2,448.0 L2239.8,448.1 L2243.2,448.3 L2246.3,448.5 L2249.1,448.6 L2251.7,448.8 L2254.1,449.0 L2256.4,449.2 L2258.7,449.4 L2261.0,449.7 L2263.3,449.9 L2265.7,450.2 L2268.3,450.6 L2271.1,451.0 L2274.2,451.4 L2277.5,451.9 L2281.1,452.4 L2284.8,452.9 L2288.6,453.5 L2292.5,454.1 L2296.5,454.7 L2300.6,455.4 L2304.7,456.1 L2308.8,456.8 L2312.9,457.6 L2316.9,458.4 L2320.8,459.2 L2324.7,460.1 L2328.7,461.0 L2332.8,462.0 L2336.9,463.1 L2340.9,464.1 L2345.0,465.2 L2349.0,466.3 L2352.9,467.4 L2356.7,468.5 L2360.4,469.6 L2364.0,470.6 L2367.4,471.6 L2370.6,472.5 L2373.7,473.5 L2376.7,474.3 L2379.5,475.2 L2382.3,476.1 L2384.9,476.9 L2387.5,477.8 L2390.1,478.6 L2392.6,479.5 L2395.0,480.3 L2397.5,481.1 L2400.0,482.0 L2402.5,482.9 L2404.8,483.7 L2407.2,484.5 L2409.4,485.4 L2411.7,486.2 L2413.9,487.0 L2416.1,487.9 L2418.3,488.7 L2420.5,489.5 L2422.6,490.4 L2424.9,491.3 L2427.1,492.2 L2429.4,493.1 L2431.6,494.0 L2433.9,495.0 L2436.1,495.9 L2438.4,496.9 L2440.6,497.9 L2442.9,498.9 L2445.2,499.9 L2447.4,500.9 L2449.7,501.9 L2451.9,502.9 L2454.2,503.9 L2456.5,504.9 L2458.7,506.0 L2461.0,507.0 L2463.3,508.1 L2465.5,509.2 L2467.8,510.3 L2470.1,511.4 L2472.3,512.5 L2474.6,513.5 L2476.9,514.6 L2479.1,515.7 L2481.4,516.8 L2483.7,517.9 L2485.9,518.9 L2488.2,519.9 L2490.4,521.0 L2492.7,522.0 L2495.0,523.0 L2497.2,524.1 L2499.5,525.2 L2501.7,526.2 L2504.0,527.4 L2506.2,528.5 L2508.5,529.7 L2510.8,530.9 L2513.0,532.2 L2515.3,533.5 L2517.5,534.8 L2519.8,536.1 L2522.1,537.5 L2524.3,538.9 L2526.6,540.3 L2528.8,541.7 L2531.1,543.1 L2533.3,544.5 L2535.6,545.9 L2537.9,547.3 L2540.1,548.7 L2542.4,550.2 L2544.6,551.6 L2546.9,553.1 L2549.1,554.6 L2551.4,556.1 L2553.7,557.6 L2555.9,559.1 L2558.2,560.6 L2560.4,562.1 L2562.7,563.6 L2565.0,565.1 L2567.2,566.6 L2569.5,568.2 L2571.8,569.7 L2574.1,571.2 L2576.4,572.8 L2578.7,574.3 L2580.9,575.9 L2583.2,577.5 L2585.4,579.2 L2587.6,580.8 L2589.8,582.5 L2592.0,584.3 L2594.4,586.2 L2596.8,588.3 L2599.2,590.4 L2601.7,592.6 L2604.0,594.7 L2606.3,596.7 L2608.5,598.7 L2610.4,600.5 L2612.2,602.1 L2613.7,603.4 L2614.9,604.5" fill="none" stroke="#996633" stroke-width="4.3" stroke-linejoin="round" stroke-linecap="round"/>
<path d="M1832.2,1169.5 L1832.3,1166.2 L1832.5,1162.3 L1832.7,1157.7 L1832.9,1152.6 L1833.2,1147.0 L1833.4,1141.0 L1833.7,1134.6 L1834.0,1128.0 L1834.3,1121.1 L1834.6,1114.2 L1834.9,1107.1 L1835.2,1100.0 L1835.5,1092.7 L1835.8,1085.1 L1836.1,1077.1 L1836.5,1068.9 L1836.8,1060.5 L1837.2,1051.9 L1837.6,1043.2 L1837.9,1034.5 L1838.3,1025.7 L1838.7,1017.0 L1839.0,1008.4 L1839.4,1000.0 L1839.8,991.7 L1840.1,983.3 L1840.5,975.0 L1840.8,966.7 L1841.2,958.3 L1841.5,950.0 L1841.9,941.7 L1842.2,933.3 L1842.6,925.0 L1842.9,916.7 L1843.3,908.3 L1843.7,900.0 L1844.0,891.4 L1844.4,882.5 L1844.8,873.3 L1845.2,863.9 L1845.5,854.6 L1845.9,845.3 L1846.3,836.4 L1846.7,827.8 L1847.0,819.8 L1847.3,812.3 L1847.6,805.7 L1847.9,800.0 L1848.1,795.2 L1848.4,791.3 L1848.6,788.0 L1848.7,785.4 L1848.9,783.3 L1849.0,781.6 L1849.2,780.2 L1849.3,779.1 L1849.5,778.0 L1849.6,777.0 L1849.7,775.9 L1849.9,774.6 L1850.1,773.3 L1850.2,772.1 L1850.4,771.1 L1850.5,770.2 L1850.7,769.4 L1850.8,768.8 L1851.0,768.2 L1851.2,767.6 L1851.3,767.1 L1851.5,766.6 L1851.7,766.1 L1851.9,765.6 L1852.1,765.1 L1852.3,764.7 L1852.5,764.4 L1852.6,764.1 L1852.8,763.8 L1853.0,763.6 L1853.2,763.4 L1853.5,763.1 L1853.8,762.8 L1854.1,762.5 L1854.5,762.1 L1854.9,761.6 L1855.4,761.0 L1855.9,760.4 L1856.5,759.8 L1857.0,759.0 L1857.7,758.3 L1858.3,757.5 L1859.0,756.7 L1859.7,755.9 L1860.5,755.1 L1861.3,754.3 L1862.1,753.5 L1862.9,752.7 L1863.8,751.9 L1864.6,751.1 L1865.6,750.3 L1866.5,749.4 L1867.5,748.6 L1868.5,747.7 L1869.5,746.9 L1870.6,746.0 L1871.7,745.1 L1872.8,744.3 L1873.9,743.4 L1875.0,742.5 L1876.1,741.6 L1877.3,740.7 L1878.5,739.8 L1879.8,738.9 L1881.0,737.9 L1882.3,737.0 L1883.6,736.1 L1884.9,735.1 L1886.2,734.2 L1887.5,733.3 L1888.7,732.4 L1890.0,731.5 L1891.2,730.6 L1892.5,729.7 L1893.8,728.9 L1895.0,728.0 L1896.2,727.2 L1897.5,726.3 L1898.8,725.5 L1900.0,724.6 L1901.2,723.8 L1902.5,723.0 L1903.8,722.1 L1905.0,721.3 L1906.3,720.5 L1907.6,719.6 L1908.9,718.8 L1910.2,717.9 L1911.5,717.0 L1912.8,716.2 L1914.1,715.4 L1915.4,714.5 L1916.6,713.7 L1917.8,713.0 L1918.9,712.2 L1920.0,711.5 L1921.0,710.8 L1921.9,710.2 L1922.7,709.6 L1923.5,709.1 L1924.2,708.5 L1924.9,708.0 L1925.6,707.5 L1926.4,706.9 L1927.2,706.4 L1928.0,705.8 L1929.0,705.2 L1930.0,704.6 L1931.1,703.9 L1932.4,703.2 L1933.6,702.5 L1935.0,701.8 L1936.4,701.0 L1937.8,700.3 L1939.2,699.5 L1940.6,698.7 L1942.1,698.0 L1943.5,697.2 L1944.9,696.5 L1946.3,695.7 L1947.7,695.0 L1949.0,694.2 L1950.4,693.4 L1951.7,692.7 L1953.1,691.9 L1954.4,691.1 L1955.7,690.4 L1957.1,689.6 L1958.4,688.9 L1959.8,688.1 L1961.1,687.4 L1962.5,686.7 L1963.9,686.0 L1965.2,685.3 L1966.6,684.6 L1967.9,683.9 L1969.3,683.2 L1970.6,682.5 L1972.0,681.8 L1973.4,681.1 L1974.7,680.5 L1976.1,679.8 L1977.4,679.2 L1978.8,678.6 L1980.1,678.0 L1981.4,677.5 L1982.7,676.9 L1983.9,676.4 L1985.2,675.9 L1986.4,675.5 L1987.7,675.0 L1989.1,674.5 L1990.5,673.9 L1991.9,673.4 L1993.5,672.8 L1995.1,672.1 L1996.8,671.4 L1998.7,670.6 L2000.6,669.8 L2002.6,668.9 L2004.7,668.0 L2006.8,667.1 L2008.9,666.3 L2011.1,665.4 L2013.2,664.5 L2015.3,663.7 L2017.4,663.0 L2019.5,662.3 L2021.5,661.7 L2023.6,661.1 L2025.6,660.6 L2027.6,660.2 L2029.7,659.8 L2031.7,659.3 L2033.7,658.9 L2035.8,658.5 L2037.8,658.1 L2039.8,657.6 L2041.9,657.1 L2043.9,656.6 L2045.9,656.0 L2048.0,655.4 L2050.0,654.7 L2052.0,654.0 L2054.1,653.4 L2056.1,652.7 L2058.1,651.9 L2060.2,651.2 L2062.2,650.5 L2064.2,649.8 L2066.3,649.2 L2068.3,648.5 L2070.3,647.9 L2072.4,647.2 L2074.4,646.6 L2076.4,646.0 L2078.5,645.4 L2080.5,644.8 L2082.5,644.2 L2084.6,643.6 L2086.6,643.0 L2088.6,642.4 L2090.7,641.8 L2092.7,641.2 L2094.7,640.6 L2096.6,640.0 L2098.5,639.4 L2100.4,638.7 L2102.3,638.1 L2104.2,637.5 L2106.1,636.9 L2108.1,636.3 L2110.2,635.6 L2112.4,635.0 L2114.7,634.4 L2117.1,633.8 L2119.7,633.2 L2122.4,632.6 L2125.3,632.0 L2128.2,631.4 L2131.3,630.8 L2134.3,630.2 L2137.5,629.6 L2140.6,629.0 L2143.7,628.3 L2146.7,627.7 L2149.7,627.1 L2152.6,626.5 L2155.4,625.9 L2158.2,625.3 L2161.0,624.6 L2163.7,624.0 L2166.4,623.4 L2169.1,622.7 L2171.8,622.1 L2174.4,621.4 L2177.1,620.8 L2179.8,620.2 L2182.5,619.5 L2185.2,618.9 L2187.9,618.3 L2190.6,617.6 L2193.3,617.0 L2196.1,616.3 L2198.8,615.7 L2201.5,615.0 L2204.2,614.4 L2206.9,613.8 L2209.7,613.1 L2212.4,612.5 L2215.1,611.9 L2217.8,611.3 L2220.5,610.7 L2223.2,610.1 L2226.0,609.6 L2228.7,609.0 L2231.4,608.5 L2234.1,607.9 L2236.8,607.4 L2239.5,606.9 L2242.3,606.3 L2245.0,605.8 L2247.7,605.3 L2250.4,604.8 L2253.1,604.3 L2255.8,603.8 L2258.5,603.4 L2261.3,602.9 L2264.0,602.5 L2266.7,602.0 L2269.4,601.6 L2272.1,601.2 L2274.8,600.7 L2277.6,600.3 L2280.3,599.8 L2283.0,599.3 L2285.7,598.8 L2288.4,598.3 L2291.2,597.7 L2293.9,597.2 L2296.6,596.6 L2299.3,596.0 L2302.1,595.5 L2304.8,594.9 L2307.5,594.4 L2310.3,593.8 L2313.0,593.3 L2315.7,592.8 L2318.4,592.3 L2321.1,591.8 L2323.9,591.3 L2326.6,590.9 L2329.3,590.4 L2332.0,590.0 L2334.7,589.5 L2337.4,589.1 L2340.2,588.7 L2342.9,588.2 L2345.6,587.8 L2348.3,587.4 L2350.9,587.0 L2353.4,586.7 L2355.8,586.3 L2358.2,586.0 L2360.5,585.7 L2362.9,585.4 L2365.4,585.1 L2368.0,584.7 L2370.8,584.4 L2373.9,584.0 L2377.2,583.5 L2380.9,583.0 L2385.0,582.4 L2389.5,581.8 L2394.4,581.0 L2399.5,580.3 L2404.9,579.5 L2410.3,578.7 L2415.8,577.9 L2421.2,577.1 L2426.5,576.3 L2431.5,575.6 L2436.3,575.0 L2440.7,574.4 L2444.8,573.9 L2448.6,573.4 L2452.2,573.0 L2455.7,572.6 L2459.0,572.3 L2462.2,572.0 L2465.4,571.7 L2468.5,571.4 L2471.7,571.1 L2474.8,570.9 L2478.1,570.6 L2481.4,570.3 L2484.8,570.0 L2488.2,569.8 L2491.6,569.5 L2494.9,569.3 L2498.3,569.0 L2501.7,568.8 L2505.1,568.6 L2508.5,568.4 L2511.8,568.2 L2515.2,568.0 L2518.6,567.8 L2522.0,567.6 L2525.4,567.4 L2528.8,567.2 L2532.2,567.1 L2535.6,566.9 L2539.0,566.7 L2542.3,566.6 L2545.7,566.4 L2549.1,566.2 L2552.5,566.1 L2555.9,565.9 L2559.3,565.8 L2562.7,565.6 L2566.1,565.4 L2569.5,565.3 L2573.0,565.1 L2576.4,564.9 L2579.9,564.7 L2583.3,564.6 L2586.7,564.4 L2590.1,564.2 L2593.5,564.1 L2596.9,563.9 L2600.2,563.7 L2603.4,563.6 L2606.5,563.5 L2609.4,563.3 L2612.2,563.2 L2615.0,563.1 L2617.6,563.0 L2620.4,562.8 L2623.1,562.7 L2626.1,562.6 L2629.2,562.5 L2632.5,562.4 L2636.1,562.3 L2640.0,562.2 L2644.3,562.1 L2648.9,562.0 L2653.7,561.9 L2658.8,561.8 L2664.1,561.7 L2669.5,561.7 L2674.9,561.6 L2680.5,561.5 L2686.0,561.4 L2691.5,561.3 L2696.8,561.2 L2702.1,561.1 L2707.3,561.0 L2712.4,560.8 L2717.6,560.7 L2722.8,560.5 L2728.0,560.4 L2733.1,560.2 L2738.3,560.1 L2743.5,559.9 L2748.7,559.8 L2753.8,559.7 L2759.0,559.6 L2764.2,559.5 L2769.4,559.4 L2774.7,559.4 L2780.1,559.4 L2785.5,559.4 L2790.9,559.3 L2796.2,559.4 L2801.5,559.4 L2806.7,559.4 L2811.9,559.4 L2816.8,559.4 L2821.7,559.5 L2826.3,559.5 L2830.8,559.5 L2835.1,559.6 L2839.4,559.6 L2843.6,559.6 L2847.6,559.7 L2851.5,559.7 L2855.4,559.8 L2859.1,559.8 L2862.7,559.9 L2866.2,560.0 L2869.6,560.2 L2872.9,560.3 L2876.1,560.5 L2879.1,560.7 L2881.9,560.9 L2884.7,561.1 L2887.4,561.3 L2889.9,561.6 L2892.4,561.8 L2894.8,562.1 L2897.1,562.4 L2899.4,562.7 L2901.7,563.1 L2904.0,563.4 L2906.2,563.8 L2908.4,564.1 L2910.6,564.5 L2912.6,564.9 L2914.7,565.3 L2916.6,565.7 L2918.5,566.2 L2920.4,566.6 L2922.2,567.1 L2924.0,567.6 L2925.7,568.2 L2927.3,568.8 L2928.9,569.4 L2930.4,570.1 L2931.8,570.7 L2933.2,571.4 L2934.5,572.2 L2935.7,572.9 L2937.0,573.7 L2938.2,574.5 L2939.3,575.4 L2940.5,576.2 L2941.6,577.1 L2942.8,578.1 L2944.0,579.1 L2945.1,580.1 L2946.2,581.2 L2947.3,582.4 L2948.4,583.5 L2949.5,584.7 L2950.5,585.9 L2951.5,587.1 L2952.5,588.4 L2953.4,589.6 L2954.3,590.9 L2955.2,592.1 L2956.0,593.3 L2956.8,594.5 L2957.6,595.8 L2958.3,597.0 L2959.0,598.2 L2959.7,599.5 L2960.3,600.7 L2960.9,602.0 L2961.5,603.4 L2962.0,604.7 L2962.5,606.1 L2963.0,607.6 L2963.4,609.2 L2963.8,610.9 L2964.2,612.8 L2964.5,614.7 L2964.8,616.7 L2965.0,618.7 L2965.3,620.6 L2965.5,622.4 L2965.7,624.1 L2965.8,625.5 L2966.0,626.8 L2966.1,627.8" fill="none" stroke="#000000" stroke-width="4.3" stroke-linejoin="round" stroke-linecap="round"/>
</g>
</svg>
</body></html>
